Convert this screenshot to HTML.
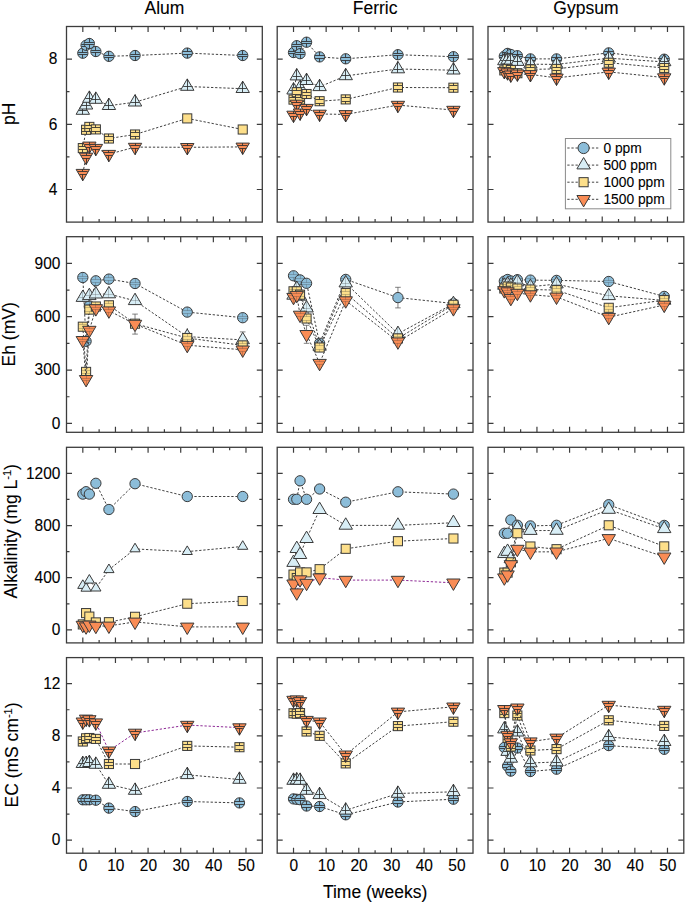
<!DOCTYPE html>
<html><head><meta charset="utf-8"><style>
html,body{margin:0;padding:0;background:#fff;}
svg{display:block;}
text{font-family:"Liberation Sans",sans-serif;fill:#000;stroke:#000;stroke-width:0.1px;}
.tl{font-size:15.5px;}
.ax{font-size:17.5px;}
.lg{font-size:13.8px;}
</style></head><body>
<svg width="685" height="902" viewBox="0 0 685 902">
<rect width="685" height="902" fill="#fff"/>
<polyline points="82.82,53.20 86.08,45.30 89.34,43.50 95.87,51.50 108.92,56.30 135.03,55.50 187.24,53.10 242.72,55.50" fill="none" stroke="#404040" stroke-width="1" stroke-dasharray="2.3 1.8"/>
<circle cx="82.82" cy="53.20" r="5.15" fill="#8cbdd9" stroke="#3a3a3a" stroke-width="1"/>
<path d="M78.21,52.50H87.42M78.21,54.50H87.42M82.50,48.05V52.50M82.50,54.50V58.35" stroke="#2e2e2e" stroke-width="1" fill="none" opacity="0.85"/>
<circle cx="86.08" cy="45.30" r="5.15" fill="#8cbdd9" stroke="#3a3a3a" stroke-width="1"/>
<path d="M81.47,44.50H90.69M81.47,46.50H90.69M86.50,40.15V44.50M86.50,46.50V50.45" stroke="#2e2e2e" stroke-width="1" fill="none" opacity="0.85"/>
<circle cx="89.34" cy="43.50" r="5.15" fill="#8cbdd9" stroke="#3a3a3a" stroke-width="1"/>
<path d="M84.74,42.50H93.95M84.74,44.50H93.95M89.50,38.35V42.50M89.50,44.50V48.65" stroke="#2e2e2e" stroke-width="1" fill="none" opacity="0.85"/>
<circle cx="95.87" cy="51.50" r="5.15" fill="#8cbdd9" stroke="#3a3a3a" stroke-width="1"/>
<path d="M91.26,50.50H100.48M91.26,52.50H100.48M95.50,46.35V50.50M95.50,52.50V56.65" stroke="#2e2e2e" stroke-width="1" fill="none" opacity="0.85"/>
<circle cx="108.92" cy="56.30" r="5.15" fill="#8cbdd9" stroke="#3a3a3a" stroke-width="1"/>
<path d="M104.32,55.50H113.53M104.32,57.50H113.53M108.50,51.15V55.50M108.50,57.50V61.45" stroke="#2e2e2e" stroke-width="1" fill="none" opacity="0.85"/>
<circle cx="135.03" cy="55.50" r="5.15" fill="#8cbdd9" stroke="#3a3a3a" stroke-width="1"/>
<path d="M130.42,54.50H139.64M130.42,56.50H139.64M135.50,50.35V54.50M135.50,56.50V60.65" stroke="#2e2e2e" stroke-width="1" fill="none" opacity="0.85"/>
<circle cx="187.24" cy="53.10" r="5.15" fill="#8cbdd9" stroke="#3a3a3a" stroke-width="1"/>
<path d="M182.64,51.50H191.85M182.64,54.50H191.85M187.50,47.95V51.50M187.50,54.50V58.25" stroke="#2e2e2e" stroke-width="1" fill="none" opacity="0.85"/>
<circle cx="242.72" cy="55.50" r="5.15" fill="#8cbdd9" stroke="#3a3a3a" stroke-width="1"/>
<path d="M238.11,54.50H247.33M238.11,56.50H247.33M242.50,50.35V54.50M242.50,56.50V60.65" stroke="#2e2e2e" stroke-width="1" fill="none" opacity="0.85"/>
<polyline points="82.82,110.50 86.08,105.20 89.34,98.50 95.87,99.50 108.92,105.70 135.03,102.20 187.24,86.50 242.72,88.70" fill="none" stroke="#404040" stroke-width="1" stroke-dasharray="2.3 1.8"/>
<polygon points="82.82,102.90 89.52,114.30 76.12,114.30" fill="#d8eef6" stroke="#3a3a3a" stroke-width="1"/>
<path d="M78.75,110.50H86.88M82.50,102.90V114.30" stroke="#2e2e2e" stroke-width="1" fill="none" opacity="0.85"/>
<polygon points="86.08,97.60 92.78,109.00 79.38,109.00" fill="#d8eef6" stroke="#3a3a3a" stroke-width="1"/>
<path d="M82.01,105.50H90.15M86.50,97.60V109.00" stroke="#2e2e2e" stroke-width="1" fill="none" opacity="0.85"/>
<polygon points="89.34,90.90 96.04,102.30 82.64,102.30" fill="#d8eef6" stroke="#3a3a3a" stroke-width="1"/>
<path d="M85.28,98.50H93.41M89.50,90.90V102.30" stroke="#2e2e2e" stroke-width="1" fill="none" opacity="0.85"/>
<polygon points="95.87,91.90 102.57,103.30 89.17,103.30" fill="#d8eef6" stroke="#3a3a3a" stroke-width="1"/>
<path d="M91.80,99.50H99.94M95.50,91.90V103.30" stroke="#2e2e2e" stroke-width="1" fill="none" opacity="0.85"/>
<polygon points="108.92,98.10 115.62,109.50 102.22,109.50" fill="#d8eef6" stroke="#3a3a3a" stroke-width="1"/>
<path d="M104.86,105.50H112.99M108.50,98.10V109.50" stroke="#2e2e2e" stroke-width="1" fill="none" opacity="0.85"/>
<polygon points="135.03,94.60 141.73,106.00 128.33,106.00" fill="#d8eef6" stroke="#3a3a3a" stroke-width="1"/>
<path d="M130.96,102.50H139.10M135.50,94.60V106.00" stroke="#2e2e2e" stroke-width="1" fill="none" opacity="0.85"/>
<polygon points="187.24,78.90 193.94,90.30 180.54,90.30" fill="#d8eef6" stroke="#3a3a3a" stroke-width="1"/>
<path d="M183.18,86.50H191.31M187.50,78.90V90.30" stroke="#2e2e2e" stroke-width="1" fill="none" opacity="0.85"/>
<polygon points="242.72,81.10 249.42,92.50 236.02,92.50" fill="#d8eef6" stroke="#3a3a3a" stroke-width="1"/>
<path d="M238.65,88.50H246.79M242.50,81.10V92.50" stroke="#2e2e2e" stroke-width="1" fill="none" opacity="0.85"/>
<polyline points="82.82,148.10 86.08,129.80 89.34,126.90 95.87,129.40 108.92,138.50 135.03,134.50 187.24,118.40 242.72,129.50" fill="none" stroke="#404040" stroke-width="1" stroke-dasharray="2.3 1.8"/>
<rect x="78.27" y="143.55" width="9.1" height="9.1" fill="#fddf8a" stroke="#3a3a3a" stroke-width="1"/>
<path d="M78.67,146.50H86.97M78.67,149.50H86.97M82.50,143.55V146.50M82.50,149.50V152.65" stroke="#2e2e2e" stroke-width="1" fill="none" opacity="0.85"/>
<rect x="81.53" y="125.25" width="9.1" height="9.1" fill="#fddf8a" stroke="#3a3a3a" stroke-width="1"/>
<path d="M81.93,128.50H90.23M81.93,131.50H90.23M86.50,125.25V128.50M86.50,131.50V134.35" stroke="#2e2e2e" stroke-width="1" fill="none" opacity="0.85"/>
<rect x="84.79" y="122.35" width="9.1" height="9.1" fill="#fddf8a" stroke="#3a3a3a" stroke-width="1"/>
<path d="M85.19,125.50H93.49M85.19,128.50H93.49M89.50,122.35V125.50M89.50,128.50V131.45" stroke="#2e2e2e" stroke-width="1" fill="none" opacity="0.85"/>
<rect x="91.32" y="124.85" width="9.1" height="9.1" fill="#fddf8a" stroke="#3a3a3a" stroke-width="1"/>
<path d="M91.72,127.50H100.02M91.72,131.50H100.02M95.50,124.85V127.50M95.50,131.50V133.95" stroke="#2e2e2e" stroke-width="1" fill="none" opacity="0.85"/>
<rect x="104.37" y="133.95" width="9.1" height="9.1" fill="#fddf8a" stroke="#3a3a3a" stroke-width="1"/>
<path d="M104.77,136.50H113.07M104.77,140.50H113.07M108.50,133.95V136.50M108.50,140.50V143.05" stroke="#2e2e2e" stroke-width="1" fill="none" opacity="0.85"/>
<rect x="130.48" y="129.95" width="9.1" height="9.1" fill="#fddf8a" stroke="#3a3a3a" stroke-width="1"/>
<path d="M130.88,132.50H139.18M130.88,136.50H139.18M135.50,129.95V132.50M135.50,136.50V139.05" stroke="#2e2e2e" stroke-width="1" fill="none" opacity="0.85"/>
<rect x="182.69" y="113.85" width="9.1" height="9.1" fill="#fddf8a" stroke="#3a3a3a" stroke-width="1"/>
<rect x="238.17" y="124.95" width="9.1" height="9.1" fill="#fddf8a" stroke="#3a3a3a" stroke-width="1"/>
<polyline points="82.82,173.20 86.08,157.00 89.34,145.90 95.87,148.20 108.92,154.20 135.03,147.10 187.24,147.30 242.72,146.90" fill="none" stroke="#404040" stroke-width="1" stroke-dasharray="2.3 1.8"/>
<polygon points="76.12,169.40 89.52,169.40 82.82,180.80" fill="#f98c55" stroke="#3a3a3a" stroke-width="1"/>
<path d="M77.99,171.50H87.65M79.51,174.50H86.12M82.50,169.40V171.50M82.50,174.50V180.80" stroke="#2e2e2e" stroke-width="1" fill="none" opacity="0.85"/>
<polygon points="79.38,153.20 92.78,153.20 86.08,164.60" fill="#f98c55" stroke="#3a3a3a" stroke-width="1"/>
<path d="M81.25,155.50H90.91M82.78,158.50H89.38M86.50,153.20V155.50M86.50,158.50V164.60" stroke="#2e2e2e" stroke-width="1" fill="none" opacity="0.85"/>
<polygon points="82.64,142.10 96.04,142.10 89.34,153.50" fill="#f98c55" stroke="#3a3a3a" stroke-width="1"/>
<path d="M84.51,144.50H94.17M86.04,147.50H92.65M89.50,142.10V144.50M89.50,147.50V153.50" stroke="#2e2e2e" stroke-width="1" fill="none" opacity="0.85"/>
<polygon points="89.17,144.40 102.57,144.40 95.87,155.80" fill="#f98c55" stroke="#3a3a3a" stroke-width="1"/>
<path d="M91.04,146.50H100.70M92.57,149.50H99.17M95.50,144.40V146.50M95.50,149.50V155.80" stroke="#2e2e2e" stroke-width="1" fill="none" opacity="0.85"/>
<polygon points="102.22,150.40 115.62,150.40 108.92,161.80" fill="#f98c55" stroke="#3a3a3a" stroke-width="1"/>
<path d="M104.09,152.50H113.75M105.62,155.50H112.23M108.50,150.40V152.50M108.50,155.50V161.80" stroke="#2e2e2e" stroke-width="1" fill="none" opacity="0.85"/>
<polygon points="128.33,143.30 141.73,143.30 135.03,154.70" fill="#f98c55" stroke="#3a3a3a" stroke-width="1"/>
<path d="M130.20,145.50H139.86M131.73,148.50H138.33M135.50,143.30V145.50M135.50,148.50V154.70" stroke="#2e2e2e" stroke-width="1" fill="none" opacity="0.85"/>
<polygon points="180.54,143.50 193.94,143.50 187.24,154.90" fill="#f98c55" stroke="#3a3a3a" stroke-width="1"/>
<path d="M182.41,145.50H192.07M183.94,148.50H190.55M187.50,143.50V145.50M187.50,148.50V154.90" stroke="#2e2e2e" stroke-width="1" fill="none" opacity="0.85"/>
<polygon points="236.02,143.10 249.42,143.10 242.72,154.50" fill="#f98c55" stroke="#3a3a3a" stroke-width="1"/>
<path d="M237.89,145.50H247.55M239.42,148.50H246.02M242.50,143.10V145.50M242.50,148.50V154.50" stroke="#2e2e2e" stroke-width="1" fill="none" opacity="0.85"/>
<rect x="66.5" y="26.5" width="195.8" height="195.6" fill="none" stroke="#3c3c3c" stroke-width="1.3"/>
<path d="M82.82,222.10v-5.5M82.82,26.50v5.5M115.45,222.10v-5.5M115.45,26.50v5.5M148.08,222.10v-5.5M148.08,26.50v5.5M180.72,222.10v-5.5M180.72,26.50v5.5M213.35,222.10v-5.5M213.35,26.50v5.5M245.98,222.10v-5.5M245.98,26.50v5.5M99.13,222.10v-3M99.13,26.50v3M131.77,222.10v-3M131.77,26.50v3M164.40,222.10v-3M164.40,26.50v3M197.03,222.10v-3M197.03,26.50v3M229.67,222.10v-3M229.67,26.50v3M66.50,189.50h5.5M262.30,189.50h-5.5M66.50,124.30h5.5M262.30,124.30h-5.5M66.50,59.10h5.5M262.30,59.10h-5.5M66.50,156.90h3M262.30,156.90h-3M66.50,91.70h3M262.30,91.70h-3" stroke="#3c3c3c" stroke-width="1.2" fill="none"/>
<polyline points="293.52,52.50 296.78,45.70 300.04,53.70 306.57,42.20 319.62,56.90 345.73,58.80 397.94,54.70 453.42,56.70" fill="none" stroke="#404040" stroke-width="1" stroke-dasharray="2.3 1.8"/>
<circle cx="293.52" cy="52.50" r="5.15" fill="#8cbdd9" stroke="#3a3a3a" stroke-width="1"/>
<path d="M288.91,51.50H298.12M288.91,53.50H298.12M293.50,47.35V51.50M293.50,53.50V57.65" stroke="#2e2e2e" stroke-width="1" fill="none" opacity="0.85"/>
<circle cx="296.78" cy="45.70" r="5.15" fill="#8cbdd9" stroke="#3a3a3a" stroke-width="1"/>
<path d="M292.17,44.50H301.39M292.17,46.50H301.39M296.50,40.55V44.50M296.50,46.50V50.85" stroke="#2e2e2e" stroke-width="1" fill="none" opacity="0.85"/>
<circle cx="300.04" cy="53.70" r="5.15" fill="#8cbdd9" stroke="#3a3a3a" stroke-width="1"/>
<path d="M295.44,52.50H304.65M295.44,54.50H304.65M300.50,48.55V52.50M300.50,54.50V58.85" stroke="#2e2e2e" stroke-width="1" fill="none" opacity="0.85"/>
<circle cx="306.57" cy="42.20" r="5.15" fill="#8cbdd9" stroke="#3a3a3a" stroke-width="1"/>
<path d="M301.96,41.50H311.18M301.96,43.50H311.18M306.50,37.05V41.50M306.50,43.50V47.35" stroke="#2e2e2e" stroke-width="1" fill="none" opacity="0.85"/>
<circle cx="319.62" cy="56.90" r="5.15" fill="#8cbdd9" stroke="#3a3a3a" stroke-width="1"/>
<path d="M315.02,55.50H324.23M315.02,58.50H324.23M319.50,51.75V55.50M319.50,58.50V62.05" stroke="#2e2e2e" stroke-width="1" fill="none" opacity="0.85"/>
<circle cx="345.73" cy="58.80" r="5.15" fill="#8cbdd9" stroke="#3a3a3a" stroke-width="1"/>
<path d="M341.12,57.50H350.34M341.12,60.50H350.34M345.50,53.65V57.50M345.50,60.50V63.95" stroke="#2e2e2e" stroke-width="1" fill="none" opacity="0.85"/>
<circle cx="397.94" cy="54.70" r="5.15" fill="#8cbdd9" stroke="#3a3a3a" stroke-width="1"/>
<path d="M393.34,53.50H402.55M393.34,55.50H402.55M397.50,49.55V53.50M397.50,55.50V59.85" stroke="#2e2e2e" stroke-width="1" fill="none" opacity="0.85"/>
<circle cx="453.42" cy="56.70" r="5.15" fill="#8cbdd9" stroke="#3a3a3a" stroke-width="1"/>
<path d="M448.81,55.50H458.03M448.81,57.50H458.03M453.50,51.55V55.50M453.50,57.50V61.85" stroke="#2e2e2e" stroke-width="1" fill="none" opacity="0.85"/>
<polyline points="293.52,90.20 296.78,76.10 300.04,87.80 306.57,80.70 319.62,86.80 345.73,75.90 397.94,69.00 453.42,70.20" fill="none" stroke="#404040" stroke-width="1" stroke-dasharray="2.3 1.8"/>
<polygon points="293.52,82.60 300.22,94.00 286.82,94.00" fill="#d8eef6" stroke="#3a3a3a" stroke-width="1"/>
<path d="M289.45,90.50H297.58M293.50,82.60V94.00" stroke="#2e2e2e" stroke-width="1" fill="none" opacity="0.85"/>
<polygon points="296.78,68.50 303.48,79.90 290.08,79.90" fill="#d8eef6" stroke="#3a3a3a" stroke-width="1"/>
<path d="M292.71,76.50H300.85M296.50,68.50V79.90" stroke="#2e2e2e" stroke-width="1" fill="none" opacity="0.85"/>
<polygon points="300.04,80.20 306.74,91.60 293.34,91.60" fill="#d8eef6" stroke="#3a3a3a" stroke-width="1"/>
<path d="M295.98,87.50H304.11M300.50,80.20V91.60" stroke="#2e2e2e" stroke-width="1" fill="none" opacity="0.85"/>
<polygon points="306.57,73.10 313.27,84.50 299.87,84.50" fill="#d8eef6" stroke="#3a3a3a" stroke-width="1"/>
<path d="M302.50,80.50H310.64M306.50,73.10V84.50" stroke="#2e2e2e" stroke-width="1" fill="none" opacity="0.85"/>
<polygon points="319.62,79.20 326.32,90.60 312.92,90.60" fill="#d8eef6" stroke="#3a3a3a" stroke-width="1"/>
<path d="M315.56,86.50H323.69M319.50,79.20V90.60" stroke="#2e2e2e" stroke-width="1" fill="none" opacity="0.85"/>
<polygon points="345.73,68.30 352.43,79.70 339.03,79.70" fill="#d8eef6" stroke="#3a3a3a" stroke-width="1"/>
<path d="M341.66,75.50H349.80M345.50,68.30V79.70" stroke="#2e2e2e" stroke-width="1" fill="none" opacity="0.85"/>
<polygon points="397.94,61.40 404.64,72.80 391.24,72.80" fill="#d8eef6" stroke="#3a3a3a" stroke-width="1"/>
<path d="M393.88,69.50H402.01M397.50,61.40V72.80" stroke="#2e2e2e" stroke-width="1" fill="none" opacity="0.85"/>
<polygon points="453.42,62.60 460.12,74.00 446.72,74.00" fill="#d8eef6" stroke="#3a3a3a" stroke-width="1"/>
<path d="M449.35,70.50H457.49M453.50,62.60V74.00" stroke="#2e2e2e" stroke-width="1" fill="none" opacity="0.85"/>
<polyline points="293.52,99.60 296.78,92.20 300.04,99.50 306.57,94.00 319.62,101.20 345.73,99.40 397.94,87.50 453.42,87.70" fill="none" stroke="#404040" stroke-width="1" stroke-dasharray="2.3 1.8"/>
<rect x="288.97" y="95.05" width="9.1" height="9.1" fill="#fddf8a" stroke="#3a3a3a" stroke-width="1"/>
<path d="M289.37,97.50H297.67M289.37,101.50H297.67M293.50,95.05V97.50M293.50,101.50V104.15" stroke="#2e2e2e" stroke-width="1" fill="none" opacity="0.85"/>
<rect x="292.23" y="87.65" width="9.1" height="9.1" fill="#fddf8a" stroke="#3a3a3a" stroke-width="1"/>
<path d="M292.63,90.50H300.93M292.63,94.50H300.93M296.50,87.65V90.50M296.50,94.50V96.75" stroke="#2e2e2e" stroke-width="1" fill="none" opacity="0.85"/>
<rect x="295.49" y="94.95" width="9.1" height="9.1" fill="#fddf8a" stroke="#3a3a3a" stroke-width="1"/>
<path d="M295.89,97.50H304.19M295.89,101.50H304.19M300.50,94.95V97.50M300.50,101.50V104.05" stroke="#2e2e2e" stroke-width="1" fill="none" opacity="0.85"/>
<rect x="302.02" y="89.45" width="9.1" height="9.1" fill="#fddf8a" stroke="#3a3a3a" stroke-width="1"/>
<path d="M302.42,92.50H310.72M302.42,95.50H310.72M306.50,89.45V92.50M306.50,95.50V98.55" stroke="#2e2e2e" stroke-width="1" fill="none" opacity="0.85"/>
<rect x="315.07" y="96.65" width="9.1" height="9.1" fill="#fddf8a" stroke="#3a3a3a" stroke-width="1"/>
<path d="M315.47,99.50H323.77M315.47,103.50H323.77M319.50,96.65V99.50M319.50,103.50V105.75" stroke="#2e2e2e" stroke-width="1" fill="none" opacity="0.85"/>
<rect x="341.18" y="94.85" width="9.1" height="9.1" fill="#fddf8a" stroke="#3a3a3a" stroke-width="1"/>
<path d="M341.58,97.50H349.88M341.58,101.50H349.88M345.50,94.85V97.50M345.50,101.50V103.95" stroke="#2e2e2e" stroke-width="1" fill="none" opacity="0.85"/>
<rect x="393.39" y="82.95" width="9.1" height="9.1" fill="#fddf8a" stroke="#3a3a3a" stroke-width="1"/>
<path d="M393.79,85.50H402.09M393.79,89.50H402.09M397.50,82.95V85.50M397.50,89.50V92.05" stroke="#2e2e2e" stroke-width="1" fill="none" opacity="0.85"/>
<rect x="448.87" y="83.15" width="9.1" height="9.1" fill="#fddf8a" stroke="#3a3a3a" stroke-width="1"/>
<path d="M449.27,85.50H457.57M449.27,89.50H457.57M453.50,83.15V85.50M453.50,89.50V92.25" stroke="#2e2e2e" stroke-width="1" fill="none" opacity="0.85"/>
<polyline points="293.52,115.00 296.78,104.00 300.04,112.80 306.57,108.20 319.62,114.00 345.73,114.40 397.94,105.10 453.42,110.10" fill="none" stroke="#404040" stroke-width="1" stroke-dasharray="2.3 1.8"/>
<polygon points="286.82,111.20 300.22,111.20 293.52,122.60" fill="#f98c55" stroke="#3a3a3a" stroke-width="1"/>
<path d="M288.69,113.50H298.35M290.21,116.50H296.82M293.50,111.20V113.50M293.50,116.50V122.60" stroke="#2e2e2e" stroke-width="1" fill="none" opacity="0.85"/>
<polygon points="290.08,100.20 303.48,100.20 296.78,111.60" fill="#f98c55" stroke="#3a3a3a" stroke-width="1"/>
<path d="M291.95,102.50H301.61M293.48,105.50H300.08M296.50,100.20V102.50M296.50,105.50V111.60" stroke="#2e2e2e" stroke-width="1" fill="none" opacity="0.85"/>
<polygon points="293.34,109.00 306.74,109.00 300.04,120.40" fill="#f98c55" stroke="#3a3a3a" stroke-width="1"/>
<path d="M295.21,111.50H304.87M296.74,114.50H303.35M300.50,109.00V111.50M300.50,114.50V120.40" stroke="#2e2e2e" stroke-width="1" fill="none" opacity="0.85"/>
<polygon points="299.87,104.40 313.27,104.40 306.57,115.80" fill="#f98c55" stroke="#3a3a3a" stroke-width="1"/>
<path d="M301.74,106.50H311.40M303.27,109.50H309.87M306.50,104.40V106.50M306.50,109.50V115.80" stroke="#2e2e2e" stroke-width="1" fill="none" opacity="0.85"/>
<polygon points="312.92,110.20 326.32,110.20 319.62,121.60" fill="#f98c55" stroke="#3a3a3a" stroke-width="1"/>
<path d="M314.79,112.50H324.45M316.32,115.50H322.93M319.50,110.20V112.50M319.50,115.50V121.60" stroke="#2e2e2e" stroke-width="1" fill="none" opacity="0.85"/>
<polygon points="339.03,110.60 352.43,110.60 345.73,122.00" fill="#f98c55" stroke="#3a3a3a" stroke-width="1"/>
<path d="M340.90,113.50H350.56M342.43,115.50H349.03M345.50,110.60V113.50M345.50,115.50V122.00" stroke="#2e2e2e" stroke-width="1" fill="none" opacity="0.85"/>
<polygon points="391.24,101.30 404.64,101.30 397.94,112.70" fill="#f98c55" stroke="#3a3a3a" stroke-width="1"/>
<path d="M393.11,103.50H402.77M394.64,106.50H401.25M397.50,101.30V103.50M397.50,106.50V112.70" stroke="#2e2e2e" stroke-width="1" fill="none" opacity="0.85"/>
<polygon points="446.72,106.30 460.12,106.30 453.42,117.70" fill="#f98c55" stroke="#3a3a3a" stroke-width="1"/>
<path d="M448.59,108.50H458.25M450.12,111.50H456.72M453.50,106.30V108.50M453.50,111.50V117.70" stroke="#2e2e2e" stroke-width="1" fill="none" opacity="0.85"/>
<rect x="277.2" y="26.5" width="195.8" height="195.6" fill="none" stroke="#3c3c3c" stroke-width="1.3"/>
<path d="M293.52,222.10v-5.5M293.52,26.50v5.5M326.15,222.10v-5.5M326.15,26.50v5.5M358.78,222.10v-5.5M358.78,26.50v5.5M391.42,222.10v-5.5M391.42,26.50v5.5M424.05,222.10v-5.5M424.05,26.50v5.5M456.68,222.10v-5.5M456.68,26.50v5.5M309.83,222.10v-3M309.83,26.50v3M342.47,222.10v-3M342.47,26.50v3M375.10,222.10v-3M375.10,26.50v3M407.73,222.10v-3M407.73,26.50v3M440.37,222.10v-3M440.37,26.50v3M277.20,189.50h5.5M473.00,189.50h-5.5M277.20,124.30h5.5M473.00,124.30h-5.5M277.20,59.10h5.5M473.00,59.10h-5.5M277.20,156.90h3M473.00,156.90h-3M277.20,91.70h3M473.00,91.70h-3" stroke="#3c3c3c" stroke-width="1.2" fill="none"/>
<polyline points="504.32,56.20 507.58,53.40 510.84,54.50 517.37,55.70 530.42,58.90 556.53,58.90 608.74,52.90 664.22,59.20" fill="none" stroke="#404040" stroke-width="1" stroke-dasharray="2.3 1.8"/>
<circle cx="504.32" cy="56.20" r="5.15" fill="#8cbdd9" stroke="#3a3a3a" stroke-width="1"/>
<path d="M499.71,55.50H508.92M499.71,57.50H508.92M504.50,51.05V55.50M504.50,57.50V61.35" stroke="#2e2e2e" stroke-width="1" fill="none" opacity="0.85"/>
<circle cx="507.58" cy="53.40" r="5.15" fill="#8cbdd9" stroke="#3a3a3a" stroke-width="1"/>
<path d="M502.97,52.50H512.19M502.97,54.50H512.19M507.50,48.25V52.50M507.50,54.50V58.55" stroke="#2e2e2e" stroke-width="1" fill="none" opacity="0.85"/>
<circle cx="510.84" cy="54.50" r="5.15" fill="#8cbdd9" stroke="#3a3a3a" stroke-width="1"/>
<path d="M506.24,53.50H515.45M506.24,55.50H515.45M510.50,49.35V53.50M510.50,55.50V59.65" stroke="#2e2e2e" stroke-width="1" fill="none" opacity="0.85"/>
<circle cx="517.37" cy="55.70" r="5.15" fill="#8cbdd9" stroke="#3a3a3a" stroke-width="1"/>
<path d="M512.76,54.50H521.98M512.76,56.50H521.98M517.50,50.55V54.50M517.50,56.50V60.85" stroke="#2e2e2e" stroke-width="1" fill="none" opacity="0.85"/>
<circle cx="530.42" cy="58.90" r="5.15" fill="#8cbdd9" stroke="#3a3a3a" stroke-width="1"/>
<path d="M525.82,57.50H535.03M525.82,60.50H535.03M530.50,53.75V57.50M530.50,60.50V64.05" stroke="#2e2e2e" stroke-width="1" fill="none" opacity="0.85"/>
<circle cx="556.53" cy="58.90" r="5.15" fill="#8cbdd9" stroke="#3a3a3a" stroke-width="1"/>
<path d="M551.92,57.50H561.14M551.92,60.50H561.14M556.50,53.75V57.50M556.50,60.50V64.05" stroke="#2e2e2e" stroke-width="1" fill="none" opacity="0.85"/>
<circle cx="608.74" cy="52.90" r="5.15" fill="#8cbdd9" stroke="#3a3a3a" stroke-width="1"/>
<path d="M604.14,51.50H613.35M604.14,54.50H613.35M608.50,47.75V51.50M608.50,54.50V58.05" stroke="#2e2e2e" stroke-width="1" fill="none" opacity="0.85"/>
<circle cx="664.22" cy="59.20" r="5.15" fill="#8cbdd9" stroke="#3a3a3a" stroke-width="1"/>
<path d="M659.61,58.50H668.83M659.61,60.50H668.83M664.50,54.05V58.50M664.50,60.50V64.35" stroke="#2e2e2e" stroke-width="1" fill="none" opacity="0.85"/>
<polyline points="504.32,60.90 507.58,60.10 510.84,60.40 517.37,61.60 530.42,64.20 556.53,64.40 608.74,58.20 664.22,61.90" fill="none" stroke="#404040" stroke-width="1" stroke-dasharray="2.3 1.8"/>
<polygon points="504.32,53.30 511.02,64.70 497.62,64.70" fill="#d8eef6" stroke="#3a3a3a" stroke-width="1"/>
<path d="M500.25,60.50H508.38M504.50,53.30V64.70" stroke="#2e2e2e" stroke-width="1" fill="none" opacity="0.85"/>
<polygon points="507.58,52.50 514.28,63.90 500.88,63.90" fill="#d8eef6" stroke="#3a3a3a" stroke-width="1"/>
<path d="M503.51,60.50H511.65M507.50,52.50V63.90" stroke="#2e2e2e" stroke-width="1" fill="none" opacity="0.85"/>
<polygon points="510.84,52.80 517.54,64.20 504.14,64.20" fill="#d8eef6" stroke="#3a3a3a" stroke-width="1"/>
<path d="M506.78,60.50H514.91M510.50,52.80V64.20" stroke="#2e2e2e" stroke-width="1" fill="none" opacity="0.85"/>
<polygon points="517.37,54.00 524.07,65.40 510.67,65.40" fill="#d8eef6" stroke="#3a3a3a" stroke-width="1"/>
<path d="M513.30,61.50H521.44M517.50,54.00V65.40" stroke="#2e2e2e" stroke-width="1" fill="none" opacity="0.85"/>
<polygon points="530.42,56.60 537.12,68.00 523.72,68.00" fill="#d8eef6" stroke="#3a3a3a" stroke-width="1"/>
<path d="M526.36,64.50H534.49M530.50,56.60V68.00" stroke="#2e2e2e" stroke-width="1" fill="none" opacity="0.85"/>
<polygon points="556.53,56.80 563.23,68.20 549.83,68.20" fill="#d8eef6" stroke="#3a3a3a" stroke-width="1"/>
<path d="M552.46,64.50H560.60M556.50,56.80V68.20" stroke="#2e2e2e" stroke-width="1" fill="none" opacity="0.85"/>
<polygon points="608.74,50.60 615.44,62.00 602.04,62.00" fill="#d8eef6" stroke="#3a3a3a" stroke-width="1"/>
<path d="M604.68,58.50H612.81M608.50,50.60V62.00" stroke="#2e2e2e" stroke-width="1" fill="none" opacity="0.85"/>
<polygon points="664.22,54.30 670.92,65.70 657.52,65.70" fill="#d8eef6" stroke="#3a3a3a" stroke-width="1"/>
<path d="M660.15,61.50H668.29M664.50,54.30V65.70" stroke="#2e2e2e" stroke-width="1" fill="none" opacity="0.85"/>
<polyline points="504.32,70.40 507.58,68.90 510.84,70.00 517.37,73.20 530.42,69.40 556.53,68.90 608.74,62.70 664.22,68.00" fill="none" stroke="#404040" stroke-width="1" stroke-dasharray="2.3 1.8"/>
<rect x="499.77" y="65.85" width="9.1" height="9.1" fill="#fddf8a" stroke="#3a3a3a" stroke-width="1"/>
<path d="M500.17,68.50H508.47M500.17,72.50H508.47M504.50,65.85V68.50M504.50,72.50V74.95" stroke="#2e2e2e" stroke-width="1" fill="none" opacity="0.85"/>
<rect x="503.03" y="64.35" width="9.1" height="9.1" fill="#fddf8a" stroke="#3a3a3a" stroke-width="1"/>
<path d="M503.43,67.50H511.73M503.43,70.50H511.73M507.50,64.35V67.50M507.50,70.50V73.45" stroke="#2e2e2e" stroke-width="1" fill="none" opacity="0.85"/>
<rect x="506.29" y="65.45" width="9.1" height="9.1" fill="#fddf8a" stroke="#3a3a3a" stroke-width="1"/>
<path d="M506.69,68.50H514.99M506.69,71.50H514.99M510.50,65.45V68.50M510.50,71.50V74.55" stroke="#2e2e2e" stroke-width="1" fill="none" opacity="0.85"/>
<rect x="512.82" y="68.65" width="9.1" height="9.1" fill="#fddf8a" stroke="#3a3a3a" stroke-width="1"/>
<path d="M513.22,71.50H521.52M513.22,75.50H521.52M517.50,68.65V71.50M517.50,75.50V77.75" stroke="#2e2e2e" stroke-width="1" fill="none" opacity="0.85"/>
<rect x="525.87" y="64.85" width="9.1" height="9.1" fill="#fddf8a" stroke="#3a3a3a" stroke-width="1"/>
<path d="M526.27,67.50H534.57M526.27,71.50H534.57M530.50,64.85V67.50M530.50,71.50V73.95" stroke="#2e2e2e" stroke-width="1" fill="none" opacity="0.85"/>
<rect x="551.98" y="64.35" width="9.1" height="9.1" fill="#fddf8a" stroke="#3a3a3a" stroke-width="1"/>
<path d="M552.38,67.50H560.68M552.38,70.50H560.68M556.50,64.35V67.50M556.50,70.50V73.45" stroke="#2e2e2e" stroke-width="1" fill="none" opacity="0.85"/>
<rect x="604.19" y="58.15" width="9.1" height="9.1" fill="#fddf8a" stroke="#3a3a3a" stroke-width="1"/>
<path d="M604.59,60.50H612.89M604.59,64.50H612.89M608.50,58.15V60.50M608.50,64.50V67.25" stroke="#2e2e2e" stroke-width="1" fill="none" opacity="0.85"/>
<rect x="659.67" y="63.45" width="9.1" height="9.1" fill="#fddf8a" stroke="#3a3a3a" stroke-width="1"/>
<path d="M660.07,66.50H668.37M660.07,69.50H668.37M664.50,63.45V66.50M664.50,69.50V72.55" stroke="#2e2e2e" stroke-width="1" fill="none" opacity="0.85"/>
<polyline points="504.32,71.40 507.58,72.60 510.84,74.80 517.37,73.80 530.42,74.40 556.53,77.90 608.74,71.90 664.22,77.60" fill="none" stroke="#404040" stroke-width="1" stroke-dasharray="2.3 1.8"/>
<polygon points="497.62,67.60 511.02,67.60 504.32,79.00" fill="#f98c55" stroke="#3a3a3a" stroke-width="1"/>
<path d="M499.49,70.50H509.15M501.01,72.50H507.62M504.50,67.60V70.50M504.50,72.50V79.00" stroke="#2e2e2e" stroke-width="1" fill="none" opacity="0.85"/>
<polygon points="500.88,68.80 514.28,68.80 507.58,80.20" fill="#f98c55" stroke="#3a3a3a" stroke-width="1"/>
<path d="M502.75,71.50H512.41M504.28,73.50H510.88M507.50,68.80V71.50M507.50,73.50V80.20" stroke="#2e2e2e" stroke-width="1" fill="none" opacity="0.85"/>
<polygon points="504.14,71.00 517.54,71.00 510.84,82.40" fill="#f98c55" stroke="#3a3a3a" stroke-width="1"/>
<path d="M506.01,73.50H515.67M507.54,76.50H514.15M510.50,71.00V73.50M510.50,76.50V82.40" stroke="#2e2e2e" stroke-width="1" fill="none" opacity="0.85"/>
<polygon points="510.67,70.00 524.07,70.00 517.37,81.40" fill="#f98c55" stroke="#3a3a3a" stroke-width="1"/>
<path d="M512.54,72.50H522.20M514.07,75.50H520.67M517.50,70.00V72.50M517.50,75.50V81.40" stroke="#2e2e2e" stroke-width="1" fill="none" opacity="0.85"/>
<polygon points="523.72,70.60 537.12,70.60 530.42,82.00" fill="#f98c55" stroke="#3a3a3a" stroke-width="1"/>
<path d="M525.59,73.50H535.25M527.12,75.50H533.73M530.50,70.60V73.50M530.50,75.50V82.00" stroke="#2e2e2e" stroke-width="1" fill="none" opacity="0.85"/>
<polygon points="549.83,74.10 563.23,74.10 556.53,85.50" fill="#f98c55" stroke="#3a3a3a" stroke-width="1"/>
<path d="M551.70,76.50H561.36M553.23,79.50H559.83M556.50,74.10V76.50M556.50,79.50V85.50" stroke="#2e2e2e" stroke-width="1" fill="none" opacity="0.85"/>
<polygon points="602.04,68.10 615.44,68.10 608.74,79.50" fill="#f98c55" stroke="#3a3a3a" stroke-width="1"/>
<path d="M603.91,70.50H613.57M605.44,73.50H612.05M608.50,68.10V70.50M608.50,73.50V79.50" stroke="#2e2e2e" stroke-width="1" fill="none" opacity="0.85"/>
<polygon points="657.52,73.80 670.92,73.80 664.22,85.20" fill="#f98c55" stroke="#3a3a3a" stroke-width="1"/>
<path d="M659.39,76.50H669.05M660.92,78.50H667.52M664.50,73.80V76.50M664.50,78.50V85.20" stroke="#2e2e2e" stroke-width="1" fill="none" opacity="0.85"/>
<rect x="488.0" y="26.5" width="195.8" height="195.6" fill="none" stroke="#3c3c3c" stroke-width="1.3"/>
<path d="M504.32,222.10v-5.5M504.32,26.50v5.5M536.95,222.10v-5.5M536.95,26.50v5.5M569.58,222.10v-5.5M569.58,26.50v5.5M602.22,222.10v-5.5M602.22,26.50v5.5M634.85,222.10v-5.5M634.85,26.50v5.5M667.48,222.10v-5.5M667.48,26.50v5.5M520.63,222.10v-3M520.63,26.50v3M553.27,222.10v-3M553.27,26.50v3M585.90,222.10v-3M585.90,26.50v3M618.53,222.10v-3M618.53,26.50v3M651.17,222.10v-3M651.17,26.50v3M488.00,189.50h5.5M683.80,189.50h-5.5M488.00,124.30h5.5M683.80,124.30h-5.5M488.00,59.10h5.5M683.80,59.10h-5.5M488.00,156.90h3M683.80,156.90h-3M488.00,91.70h3M683.80,91.70h-3" stroke="#3c3c3c" stroke-width="1.2" fill="none"/>
<polyline points="82.82,277.50 86.08,341.30 89.34,306.00 95.87,280.80 108.92,279.10 135.03,283.50 187.24,312.10 242.72,317.70" fill="none" stroke="#404040" stroke-width="1" stroke-dasharray="2.3 1.8"/>
<circle cx="82.82" cy="277.50" r="5.15" fill="#8cbdd9" stroke="#3a3a3a" stroke-width="1"/>
<path d="M78.21,276.50H87.42M78.21,278.50H87.42M82.50,272.35V276.50M82.50,278.50V282.65" stroke="#2e2e2e" stroke-width="1" fill="none" opacity="0.25"/>
<circle cx="86.08" cy="341.30" r="5.15" fill="#8cbdd9" stroke="#3a3a3a" stroke-width="1"/>
<path d="M81.47,340.50H90.69M81.47,342.50H90.69M86.50,336.15V340.50M86.50,342.50V346.45" stroke="#2e2e2e" stroke-width="1" fill="none" opacity="0.25"/>
<circle cx="89.34" cy="306.00" r="5.15" fill="#8cbdd9" stroke="#3a3a3a" stroke-width="1"/>
<path d="M84.74,304.50H93.95M84.74,307.50H93.95M89.50,300.85V304.50M89.50,307.50V311.15" stroke="#2e2e2e" stroke-width="1" fill="none" opacity="0.25"/>
<circle cx="95.87" cy="280.80" r="5.15" fill="#8cbdd9" stroke="#3a3a3a" stroke-width="1"/>
<path d="M91.26,279.50H100.48M91.26,282.50H100.48M95.50,275.65V279.50M95.50,282.50V285.95" stroke="#2e2e2e" stroke-width="1" fill="none" opacity="0.25"/>
<circle cx="108.92" cy="279.10" r="5.15" fill="#8cbdd9" stroke="#3a3a3a" stroke-width="1"/>
<path d="M104.32,277.50H113.53M104.32,280.50H113.53M108.50,273.95V277.50M108.50,280.50V284.25" stroke="#2e2e2e" stroke-width="1" fill="none" opacity="0.25"/>
<circle cx="135.03" cy="283.50" r="5.15" fill="#8cbdd9" stroke="#3a3a3a" stroke-width="1"/>
<path d="M130.42,282.50H139.64M130.42,284.50H139.64M135.50,278.35V282.50M135.50,284.50V288.65" stroke="#2e2e2e" stroke-width="1" fill="none" opacity="0.25"/>
<circle cx="187.24" cy="312.10" r="5.15" fill="#8cbdd9" stroke="#3a3a3a" stroke-width="1"/>
<path d="M182.64,310.50H191.85M182.64,313.50H191.85M187.50,306.95V310.50M187.50,313.50V317.25" stroke="#2e2e2e" stroke-width="1" fill="none" opacity="0.25"/>
<circle cx="242.72" cy="317.70" r="5.15" fill="#8cbdd9" stroke="#3a3a3a" stroke-width="1"/>
<path d="M238.11,316.50H247.33M238.11,318.50H247.33M242.50,312.55V316.50M242.50,318.50V322.85" stroke="#2e2e2e" stroke-width="1" fill="none" opacity="0.25"/>
<polyline points="82.82,297.60 89.34,295.80 95.87,294.20 108.92,294.00 135.03,300.80 187.24,336.60 242.72,339.90" fill="none" stroke="#404040" stroke-width="1" stroke-dasharray="2.3 1.8"/>
<polygon points="82.82,290.00 89.52,301.40 76.12,301.40" fill="#d8eef6" stroke="#3a3a3a" stroke-width="1"/>
<path d="M78.75,297.50H86.88M82.50,290.00V301.40" stroke="#2e2e2e" stroke-width="1" fill="none" opacity="0.25"/>
<polygon points="89.34,288.20 96.04,299.60 82.64,299.60" fill="#d8eef6" stroke="#3a3a3a" stroke-width="1"/>
<path d="M85.28,295.50H93.41M89.50,288.20V299.60" stroke="#2e2e2e" stroke-width="1" fill="none" opacity="0.25"/>
<polygon points="95.87,286.60 102.57,298.00 89.17,298.00" fill="#d8eef6" stroke="#3a3a3a" stroke-width="1"/>
<path d="M91.80,294.50H99.94M95.50,286.60V298.00" stroke="#2e2e2e" stroke-width="1" fill="none" opacity="0.25"/>
<polygon points="108.92,286.40 115.62,297.80 102.22,297.80" fill="#d8eef6" stroke="#3a3a3a" stroke-width="1"/>
<path d="M104.86,294.50H112.99M108.50,286.40V297.80" stroke="#2e2e2e" stroke-width="1" fill="none" opacity="0.25"/>
<polygon points="135.03,293.20 141.73,304.60 128.33,304.60" fill="#d8eef6" stroke="#3a3a3a" stroke-width="1"/>
<path d="M130.96,300.50H139.10M135.50,293.20V304.60" stroke="#2e2e2e" stroke-width="1" fill="none" opacity="0.25"/>
<polygon points="187.24,329.00 193.94,340.40 180.54,340.40" fill="#d8eef6" stroke="#3a3a3a" stroke-width="1"/>
<path d="M187.64,328.50H186.84" stroke="#2e2e2e" stroke-width="1" fill="none" opacity="0.9"/>
<path d="M184.44,344.20H190.04M187.24,329.00V329.00M187.24,340.40V344.20" stroke="#555" stroke-width="1" fill="none" opacity="0.75"/>
<polygon points="242.72,332.30 249.42,343.70 236.02,343.70" fill="#d8eef6" stroke="#3a3a3a" stroke-width="1"/>
<path d="M239.92,331.90H245.52M239.92,347.90H245.52M242.72,332.30V331.90M242.72,343.70V347.90" stroke="#555" stroke-width="1" fill="none" opacity="0.75"/>
<polyline points="82.82,326.70 86.08,371.90 89.34,309.60 95.87,306.50 108.92,305.30 135.03,323.70 187.24,338.00 242.72,345.40" fill="none" stroke="#404040" stroke-width="1" stroke-dasharray="2.3 1.8"/>
<rect x="78.27" y="322.15" width="9.1" height="9.1" fill="#fddf8a" stroke="#3a3a3a" stroke-width="1"/>
<path d="M78.67,324.50H86.97M78.67,328.50H86.97M82.50,322.15V324.50M82.50,328.50V331.25" stroke="#2e2e2e" stroke-width="1" fill="none" opacity="0.25"/>
<rect x="81.53" y="367.35" width="9.1" height="9.1" fill="#fddf8a" stroke="#3a3a3a" stroke-width="1"/>
<path d="M81.93,370.50H90.23M81.93,373.50H90.23M86.50,367.35V370.50M86.50,373.50V376.45" stroke="#2e2e2e" stroke-width="1" fill="none" opacity="0.25"/>
<rect x="84.79" y="305.05" width="9.1" height="9.1" fill="#fddf8a" stroke="#3a3a3a" stroke-width="1"/>
<path d="M85.19,307.50H93.49M85.19,311.50H93.49M89.50,305.05V307.50M89.50,311.50V314.15" stroke="#2e2e2e" stroke-width="1" fill="none" opacity="0.25"/>
<rect x="91.32" y="301.95" width="9.1" height="9.1" fill="#fddf8a" stroke="#3a3a3a" stroke-width="1"/>
<path d="M91.72,304.50H100.02M91.72,308.50H100.02M95.50,301.95V304.50M95.50,308.50V311.05" stroke="#2e2e2e" stroke-width="1" fill="none" opacity="0.25"/>
<rect x="104.37" y="300.75" width="9.1" height="9.1" fill="#fddf8a" stroke="#3a3a3a" stroke-width="1"/>
<path d="M104.77,303.50H113.07M104.77,307.50H113.07M108.50,300.75V303.50M108.50,307.50V309.85" stroke="#2e2e2e" stroke-width="1" fill="none" opacity="0.25"/>
<rect x="130.48" y="319.15" width="9.1" height="9.1" fill="#fddf8a" stroke="#3a3a3a" stroke-width="1"/>
<path d="M130.88,321.50H139.18M130.88,325.50H139.18M135.50,319.15V321.50M135.50,325.50V328.25" stroke="#2e2e2e" stroke-width="1" fill="none" opacity="0.25"/>
<rect x="182.69" y="333.45" width="9.1" height="9.1" fill="#fddf8a" stroke="#3a3a3a" stroke-width="1"/>
<path d="M183.09,336.50H191.39M183.09,339.50H191.39M187.50,333.45V336.50M187.50,339.50V342.55" stroke="#2e2e2e" stroke-width="1" fill="none" opacity="0.25"/>
<rect x="238.17" y="340.85" width="9.1" height="9.1" fill="#fddf8a" stroke="#3a3a3a" stroke-width="1"/>
<path d="M238.57,343.50H246.87M238.57,347.50H246.87M242.50,340.85V343.50M242.50,347.50V349.95" stroke="#2e2e2e" stroke-width="1" fill="none" opacity="0.25"/>
<polyline points="82.82,340.30 86.08,379.30 89.34,330.10 95.87,308.50 108.92,310.70 135.03,324.10 187.24,345.20 242.72,349.80" fill="none" stroke="#404040" stroke-width="1" stroke-dasharray="2.3 1.8"/>
<polygon points="76.12,336.50 89.52,336.50 82.82,347.90" fill="#f98c55" stroke="#3a3a3a" stroke-width="1"/>
<path d="M77.99,339.50H87.65M79.51,341.50H86.12M82.50,336.50V339.50M82.50,341.50V347.90" stroke="#2e2e2e" stroke-width="1" fill="none" opacity="0.25"/>
<polygon points="79.38,375.50 92.78,375.50 86.08,386.90" fill="#f98c55" stroke="#3a3a3a" stroke-width="1"/>
<path d="M81.25,378.50H90.91M82.78,380.50H89.38M86.50,375.50V378.50M86.50,380.50V386.90" stroke="#2e2e2e" stroke-width="1" fill="none" opacity="0.25"/>
<polygon points="82.64,326.30 96.04,326.30 89.34,337.70" fill="#f98c55" stroke="#3a3a3a" stroke-width="1"/>
<path d="M84.51,328.50H94.17M86.04,331.50H92.65M89.50,326.30V328.50M89.50,331.50V337.70" stroke="#2e2e2e" stroke-width="1" fill="none" opacity="0.25"/>
<polygon points="89.17,304.70 102.57,304.70 95.87,316.10" fill="#f98c55" stroke="#3a3a3a" stroke-width="1"/>
<path d="M91.04,307.50H100.70M92.57,309.50H99.17M95.50,304.70V307.50M95.50,309.50V316.10" stroke="#2e2e2e" stroke-width="1" fill="none" opacity="0.25"/>
<polygon points="102.22,306.90 115.62,306.90 108.92,318.30" fill="#f98c55" stroke="#3a3a3a" stroke-width="1"/>
<path d="M104.09,309.50H113.75M105.62,312.50H112.23M108.50,306.90V309.50M108.50,312.50V318.30" stroke="#2e2e2e" stroke-width="1" fill="none" opacity="0.25"/>
<polygon points="128.33,320.30 141.73,320.30 135.03,331.70" fill="#f98c55" stroke="#3a3a3a" stroke-width="1"/>
<path d="M132.23,314.10H137.83M132.23,334.10H137.83M135.03,320.30V314.10M135.03,331.70V334.10" stroke="#555" stroke-width="1" fill="none" opacity="0.75"/>
<polygon points="180.54,341.40 193.94,341.40 187.24,352.80" fill="#f98c55" stroke="#3a3a3a" stroke-width="1"/>
<path d="M182.41,343.50H192.07M183.94,346.50H190.55M187.50,341.40V343.50M187.50,346.50V352.80" stroke="#2e2e2e" stroke-width="1" fill="none" opacity="0.25"/>
<polygon points="236.02,346.00 249.42,346.00 242.72,357.40" fill="#f98c55" stroke="#3a3a3a" stroke-width="1"/>
<path d="M237.89,348.50H247.55M239.42,351.50H246.02M242.50,346.00V348.50M242.50,351.50V357.40" stroke="#2e2e2e" stroke-width="1" fill="none" opacity="0.25"/>
<rect x="66.5" y="236.7" width="195.8" height="195.6" fill="none" stroke="#3c3c3c" stroke-width="1.3"/>
<path d="M82.82,432.30v-5.5M82.82,236.70v5.5M115.45,432.30v-5.5M115.45,236.70v5.5M148.08,432.30v-5.5M148.08,236.70v5.5M180.72,432.30v-5.5M180.72,236.70v5.5M213.35,432.30v-5.5M213.35,236.70v5.5M245.98,432.30v-5.5M245.98,236.70v5.5M99.13,432.30v-3M99.13,236.70v3M131.77,432.30v-3M131.77,236.70v3M164.40,432.30v-3M164.40,236.70v3M197.03,432.30v-3M197.03,236.70v3M229.67,432.30v-3M229.67,236.70v3M66.50,423.41h5.5M262.30,423.41h-5.5M66.50,370.06h5.5M262.30,370.06h-5.5M66.50,316.72h5.5M262.30,316.72h-5.5M66.50,263.37h5.5M262.30,263.37h-5.5M66.50,396.74h3M262.30,396.74h-3M66.50,343.39h3M262.30,343.39h-3M66.50,290.05h3M262.30,290.05h-3" stroke="#3c3c3c" stroke-width="1.2" fill="none"/>
<polyline points="293.52,275.80 296.78,291.50 300.04,279.90 306.57,283.30 319.62,343.30 345.73,279.40 397.94,297.60 453.42,303.50" fill="none" stroke="#404040" stroke-width="1" stroke-dasharray="2.3 1.8"/>
<circle cx="293.52" cy="275.80" r="5.15" fill="#8cbdd9" stroke="#3a3a3a" stroke-width="1"/>
<path d="M288.91,274.50H298.12M288.91,277.50H298.12M293.50,270.65V274.50M293.50,277.50V280.95" stroke="#2e2e2e" stroke-width="1" fill="none" opacity="0.25"/>
<circle cx="296.78" cy="291.50" r="5.15" fill="#8cbdd9" stroke="#3a3a3a" stroke-width="1"/>
<path d="M292.17,290.50H301.39M292.17,292.50H301.39M296.50,286.35V290.50M296.50,292.50V296.65" stroke="#2e2e2e" stroke-width="1" fill="none" opacity="0.25"/>
<circle cx="300.04" cy="279.90" r="5.15" fill="#8cbdd9" stroke="#3a3a3a" stroke-width="1"/>
<path d="M295.44,278.50H304.65M295.44,281.50H304.65M300.50,274.75V278.50M300.50,281.50V285.05" stroke="#2e2e2e" stroke-width="1" fill="none" opacity="0.25"/>
<circle cx="306.57" cy="283.30" r="5.15" fill="#8cbdd9" stroke="#3a3a3a" stroke-width="1"/>
<path d="M301.96,282.50H311.18M301.96,284.50H311.18M306.50,278.15V282.50M306.50,284.50V288.45" stroke="#2e2e2e" stroke-width="1" fill="none" opacity="0.25"/>
<circle cx="319.62" cy="343.30" r="5.15" fill="#8cbdd9" stroke="#3a3a3a" stroke-width="1"/>
<path d="M315.02,342.50H324.23M315.02,344.50H324.23M319.50,338.15V342.50M319.50,344.50V348.45" stroke="#2e2e2e" stroke-width="1" fill="none" opacity="0.25"/>
<circle cx="345.73" cy="279.40" r="5.15" fill="#8cbdd9" stroke="#3a3a3a" stroke-width="1"/>
<path d="M341.12,278.50H350.34M341.12,280.50H350.34M345.50,274.25V278.50M345.50,280.50V284.55" stroke="#2e2e2e" stroke-width="1" fill="none" opacity="0.25"/>
<circle cx="397.94" cy="297.60" r="5.15" fill="#8cbdd9" stroke="#3a3a3a" stroke-width="1"/>
<path d="M395.14,287.30H400.74M395.14,307.90H400.74M397.94,292.45V287.30M397.94,302.75V307.90" stroke="#555" stroke-width="1" fill="none" opacity="0.75"/>
<circle cx="453.42" cy="303.50" r="5.15" fill="#8cbdd9" stroke="#3a3a3a" stroke-width="1"/>
<path d="M448.81,302.50H458.03M448.81,304.50H458.03M453.50,298.35V302.50M453.50,304.50V308.65" stroke="#2e2e2e" stroke-width="1" fill="none" opacity="0.25"/>
<polyline points="293.52,295.40 296.78,288.60 300.04,296.40 306.57,308.10 319.62,346.40 345.73,283.10 397.94,333.70 453.42,303.80" fill="none" stroke="#404040" stroke-width="1" stroke-dasharray="2.3 1.8"/>
<polygon points="293.52,287.80 300.22,299.20 286.82,299.20" fill="#d8eef6" stroke="#3a3a3a" stroke-width="1"/>
<path d="M289.45,295.50H297.58M293.50,287.80V299.20" stroke="#2e2e2e" stroke-width="1" fill="none" opacity="0.25"/>
<polygon points="296.78,281.00 303.48,292.40 290.08,292.40" fill="#d8eef6" stroke="#3a3a3a" stroke-width="1"/>
<path d="M292.71,288.50H300.85M296.50,281.00V292.40" stroke="#2e2e2e" stroke-width="1" fill="none" opacity="0.25"/>
<polygon points="300.04,288.80 306.74,300.20 293.34,300.20" fill="#d8eef6" stroke="#3a3a3a" stroke-width="1"/>
<path d="M295.98,296.50H304.11M300.50,288.80V300.20" stroke="#2e2e2e" stroke-width="1" fill="none" opacity="0.25"/>
<polygon points="306.57,300.50 313.27,311.90 299.87,311.90" fill="#d8eef6" stroke="#3a3a3a" stroke-width="1"/>
<path d="M302.50,308.50H310.64M306.50,300.50V311.90" stroke="#2e2e2e" stroke-width="1" fill="none" opacity="0.25"/>
<polygon points="319.62,338.80 326.32,350.20 312.92,350.20" fill="#d8eef6" stroke="#3a3a3a" stroke-width="1"/>
<path d="M315.56,346.50H323.69M319.50,338.80V350.20" stroke="#2e2e2e" stroke-width="1" fill="none" opacity="0.25"/>
<polygon points="345.73,275.50 352.43,286.90 339.03,286.90" fill="#d8eef6" stroke="#3a3a3a" stroke-width="1"/>
<path d="M341.66,283.50H349.80M345.50,275.50V286.90" stroke="#2e2e2e" stroke-width="1" fill="none" opacity="0.25"/>
<polygon points="397.94,326.10 404.64,337.50 391.24,337.50" fill="#d8eef6" stroke="#3a3a3a" stroke-width="1"/>
<path d="M393.88,333.50H402.01M397.50,326.10V337.50" stroke="#2e2e2e" stroke-width="1" fill="none" opacity="0.25"/>
<polygon points="453.42,296.20 460.12,307.60 446.72,307.60" fill="#d8eef6" stroke="#3a3a3a" stroke-width="1"/>
<path d="M449.35,303.50H457.49M453.50,296.20V307.60" stroke="#2e2e2e" stroke-width="1" fill="none" opacity="0.25"/>
<polyline points="293.52,291.30 296.78,291.30 300.04,294.70 306.57,318.50 319.62,347.50 345.73,293.00 397.94,338.40 453.42,304.80" fill="none" stroke="#404040" stroke-width="1" stroke-dasharray="2.3 1.8"/>
<rect x="288.97" y="286.75" width="9.1" height="9.1" fill="#fddf8a" stroke="#3a3a3a" stroke-width="1"/>
<path d="M289.37,289.50H297.67M289.37,293.50H297.67M293.50,286.75V289.50M293.50,293.50V295.85" stroke="#2e2e2e" stroke-width="1" fill="none" opacity="0.25"/>
<rect x="292.23" y="286.75" width="9.1" height="9.1" fill="#fddf8a" stroke="#3a3a3a" stroke-width="1"/>
<path d="M292.63,289.50H300.93M292.63,293.50H300.93M296.50,286.75V289.50M296.50,293.50V295.85" stroke="#2e2e2e" stroke-width="1" fill="none" opacity="0.25"/>
<rect x="295.49" y="290.15" width="9.1" height="9.1" fill="#fddf8a" stroke="#3a3a3a" stroke-width="1"/>
<path d="M295.89,292.50H304.19M295.89,296.50H304.19M300.50,290.15V292.50M300.50,296.50V299.25" stroke="#2e2e2e" stroke-width="1" fill="none" opacity="0.25"/>
<rect x="302.02" y="313.95" width="9.1" height="9.1" fill="#fddf8a" stroke="#3a3a3a" stroke-width="1"/>
<path d="M302.42,316.50H310.72M302.42,320.50H310.72M306.50,313.95V316.50M306.50,320.50V323.05" stroke="#2e2e2e" stroke-width="1" fill="none" opacity="0.25"/>
<rect x="315.07" y="342.95" width="9.1" height="9.1" fill="#fddf8a" stroke="#3a3a3a" stroke-width="1"/>
<path d="M315.47,345.50H323.77M315.47,349.50H323.77M319.50,342.95V345.50M319.50,349.50V352.05" stroke="#2e2e2e" stroke-width="1" fill="none" opacity="0.25"/>
<rect x="341.18" y="288.45" width="9.1" height="9.1" fill="#fddf8a" stroke="#3a3a3a" stroke-width="1"/>
<path d="M341.58,291.50H349.88M341.58,294.50H349.88M345.50,288.45V291.50M345.50,294.50V297.55" stroke="#2e2e2e" stroke-width="1" fill="none" opacity="0.25"/>
<rect x="393.39" y="333.85" width="9.1" height="9.1" fill="#fddf8a" stroke="#3a3a3a" stroke-width="1"/>
<path d="M393.79,336.50H402.09M393.79,340.50H402.09M397.50,333.85V336.50M397.50,340.50V342.95" stroke="#2e2e2e" stroke-width="1" fill="none" opacity="0.25"/>
<rect x="448.87" y="300.25" width="9.1" height="9.1" fill="#fddf8a" stroke="#3a3a3a" stroke-width="1"/>
<path d="M449.27,303.50H457.57M449.27,306.50H457.57M453.50,300.25V303.50M453.50,306.50V309.35" stroke="#2e2e2e" stroke-width="1" fill="none" opacity="0.25"/>
<polyline points="293.52,297.20 296.78,295.20 300.04,315.00 306.57,334.30 319.62,363.20 345.73,300.60 397.94,341.70 453.42,308.50" fill="none" stroke="#404040" stroke-width="1" stroke-dasharray="2.3 1.8"/>
<polygon points="286.82,293.40 300.22,293.40 293.52,304.80" fill="#f98c55" stroke="#3a3a3a" stroke-width="1"/>
<path d="M288.69,295.50H298.35M290.21,298.50H296.82M293.50,293.40V295.50M293.50,298.50V304.80" stroke="#2e2e2e" stroke-width="1" fill="none" opacity="0.25"/>
<polygon points="290.08,291.40 303.48,291.40 296.78,302.80" fill="#f98c55" stroke="#3a3a3a" stroke-width="1"/>
<path d="M291.95,293.50H301.61M293.48,296.50H300.08M296.50,291.40V293.50M296.50,296.50V302.80" stroke="#2e2e2e" stroke-width="1" fill="none" opacity="0.25"/>
<polygon points="293.34,311.20 306.74,311.20 300.04,322.60" fill="#f98c55" stroke="#3a3a3a" stroke-width="1"/>
<path d="M295.21,313.50H304.87M296.74,316.50H303.35M300.50,311.20V313.50M300.50,316.50V322.60" stroke="#2e2e2e" stroke-width="1" fill="none" opacity="0.25"/>
<polygon points="299.87,330.50 313.27,330.50 306.57,341.90" fill="#f98c55" stroke="#3a3a3a" stroke-width="1"/>
<path d="M303.77,325.30H309.37M303.77,343.30H309.37M306.57,330.50V325.30M306.57,341.90V343.30" stroke="#555" stroke-width="1" fill="none" opacity="0.75"/>
<polygon points="312.92,359.40 326.32,359.40 319.62,370.80" fill="#f98c55" stroke="#3a3a3a" stroke-width="1"/>
<path d="M314.79,361.50H324.45M316.32,364.50H322.93M319.50,359.40V361.50M319.50,364.50V370.80" stroke="#2e2e2e" stroke-width="1" fill="none" opacity="0.25"/>
<polygon points="339.03,296.80 352.43,296.80 345.73,308.20" fill="#f98c55" stroke="#3a3a3a" stroke-width="1"/>
<path d="M340.90,299.50H350.56M342.43,301.50H349.03M345.50,296.80V299.50M345.50,301.50V308.20" stroke="#2e2e2e" stroke-width="1" fill="none" opacity="0.25"/>
<polygon points="391.24,337.90 404.64,337.90 397.94,349.30" fill="#f98c55" stroke="#3a3a3a" stroke-width="1"/>
<path d="M393.11,340.50H402.77M394.64,343.50H401.25M397.50,337.90V340.50M397.50,343.50V349.30" stroke="#2e2e2e" stroke-width="1" fill="none" opacity="0.25"/>
<polygon points="446.72,304.70 460.12,304.70 453.42,316.10" fill="#f98c55" stroke="#3a3a3a" stroke-width="1"/>
<path d="M448.59,307.50H458.25M450.12,309.50H456.72M453.50,304.70V307.50M453.50,309.50V316.10" stroke="#2e2e2e" stroke-width="1" fill="none" opacity="0.25"/>
<rect x="277.2" y="236.7" width="195.8" height="195.6" fill="none" stroke="#3c3c3c" stroke-width="1.3"/>
<path d="M293.52,432.30v-5.5M293.52,236.70v5.5M326.15,432.30v-5.5M326.15,236.70v5.5M358.78,432.30v-5.5M358.78,236.70v5.5M391.42,432.30v-5.5M391.42,236.70v5.5M424.05,432.30v-5.5M424.05,236.70v5.5M456.68,432.30v-5.5M456.68,236.70v5.5M309.83,432.30v-3M309.83,236.70v3M342.47,432.30v-3M342.47,236.70v3M375.10,432.30v-3M375.10,236.70v3M407.73,432.30v-3M407.73,236.70v3M440.37,432.30v-3M440.37,236.70v3M277.20,423.41h5.5M473.00,423.41h-5.5M277.20,370.06h5.5M473.00,370.06h-5.5M277.20,316.72h5.5M473.00,316.72h-5.5M277.20,263.37h5.5M473.00,263.37h-5.5M277.20,396.74h3M473.00,396.74h-3M277.20,343.39h3M473.00,343.39h-3M277.20,290.05h3M473.00,290.05h-3" stroke="#3c3c3c" stroke-width="1.2" fill="none"/>
<polyline points="504.32,281.20 507.58,279.50 510.84,281.00 517.37,279.70 530.42,280.10 556.53,280.40 608.74,281.50 664.22,296.40" fill="none" stroke="#404040" stroke-width="1" stroke-dasharray="2.3 1.8"/>
<circle cx="504.32" cy="281.20" r="5.15" fill="#8cbdd9" stroke="#3a3a3a" stroke-width="1"/>
<path d="M499.71,280.50H508.92M499.71,282.50H508.92M504.50,276.05V280.50M504.50,282.50V286.35" stroke="#2e2e2e" stroke-width="1" fill="none" opacity="0.25"/>
<circle cx="507.58" cy="279.50" r="5.15" fill="#8cbdd9" stroke="#3a3a3a" stroke-width="1"/>
<path d="M502.97,278.50H512.19M502.97,280.50H512.19M507.50,274.35V278.50M507.50,280.50V284.65" stroke="#2e2e2e" stroke-width="1" fill="none" opacity="0.25"/>
<circle cx="510.84" cy="281.00" r="5.15" fill="#8cbdd9" stroke="#3a3a3a" stroke-width="1"/>
<path d="M506.24,279.50H515.45M506.24,282.50H515.45M510.50,275.85V279.50M510.50,282.50V286.15" stroke="#2e2e2e" stroke-width="1" fill="none" opacity="0.25"/>
<circle cx="517.37" cy="279.70" r="5.15" fill="#8cbdd9" stroke="#3a3a3a" stroke-width="1"/>
<path d="M512.76,278.50H521.98M512.76,280.50H521.98M517.50,274.55V278.50M517.50,280.50V284.85" stroke="#2e2e2e" stroke-width="1" fill="none" opacity="0.25"/>
<circle cx="530.42" cy="280.10" r="5.15" fill="#8cbdd9" stroke="#3a3a3a" stroke-width="1"/>
<path d="M525.82,278.50H535.03M525.82,281.50H535.03M530.50,274.95V278.50M530.50,281.50V285.25" stroke="#2e2e2e" stroke-width="1" fill="none" opacity="0.25"/>
<circle cx="556.53" cy="280.40" r="5.15" fill="#8cbdd9" stroke="#3a3a3a" stroke-width="1"/>
<path d="M551.92,279.50H561.14M551.92,281.50H561.14M556.50,275.25V279.50M556.50,281.50V285.55" stroke="#2e2e2e" stroke-width="1" fill="none" opacity="0.25"/>
<circle cx="608.74" cy="281.50" r="5.15" fill="#8cbdd9" stroke="#3a3a3a" stroke-width="1"/>
<path d="M604.14,280.50H613.35M604.14,282.50H613.35M608.50,276.35V280.50M608.50,282.50V286.65" stroke="#2e2e2e" stroke-width="1" fill="none" opacity="0.25"/>
<circle cx="664.22" cy="296.40" r="5.15" fill="#8cbdd9" stroke="#3a3a3a" stroke-width="1"/>
<path d="M659.61,295.50H668.83M659.61,297.50H668.83M664.50,291.25V295.50M664.50,297.50V301.55" stroke="#2e2e2e" stroke-width="1" fill="none" opacity="0.25"/>
<polyline points="504.32,285.40 507.58,284.40 510.84,285.40 517.37,282.00 530.42,286.70 556.53,284.10 608.74,295.80 664.22,300.40" fill="none" stroke="#404040" stroke-width="1" stroke-dasharray="2.3 1.8"/>
<polygon points="504.32,277.80 511.02,289.20 497.62,289.20" fill="#d8eef6" stroke="#3a3a3a" stroke-width="1"/>
<path d="M500.25,285.50H508.38M504.50,277.80V289.20" stroke="#2e2e2e" stroke-width="1" fill="none" opacity="0.25"/>
<polygon points="507.58,276.80 514.28,288.20 500.88,288.20" fill="#d8eef6" stroke="#3a3a3a" stroke-width="1"/>
<path d="M503.51,284.50H511.65M507.50,276.80V288.20" stroke="#2e2e2e" stroke-width="1" fill="none" opacity="0.25"/>
<polygon points="510.84,277.80 517.54,289.20 504.14,289.20" fill="#d8eef6" stroke="#3a3a3a" stroke-width="1"/>
<path d="M506.78,285.50H514.91M510.50,277.80V289.20" stroke="#2e2e2e" stroke-width="1" fill="none" opacity="0.25"/>
<polygon points="517.37,274.40 524.07,285.80 510.67,285.80" fill="#d8eef6" stroke="#3a3a3a" stroke-width="1"/>
<path d="M513.30,282.50H521.44M517.50,274.40V285.80" stroke="#2e2e2e" stroke-width="1" fill="none" opacity="0.25"/>
<polygon points="530.42,279.10 537.12,290.50 523.72,290.50" fill="#d8eef6" stroke="#3a3a3a" stroke-width="1"/>
<path d="M526.36,286.50H534.49M530.50,279.10V290.50" stroke="#2e2e2e" stroke-width="1" fill="none" opacity="0.25"/>
<polygon points="556.53,276.50 563.23,287.90 549.83,287.90" fill="#d8eef6" stroke="#3a3a3a" stroke-width="1"/>
<path d="M552.46,284.50H560.60M556.50,276.50V287.90" stroke="#2e2e2e" stroke-width="1" fill="none" opacity="0.25"/>
<polygon points="608.74,288.20 615.44,299.60 602.04,299.60" fill="#d8eef6" stroke="#3a3a3a" stroke-width="1"/>
<path d="M604.68,295.50H612.81M608.50,288.20V299.60" stroke="#2e2e2e" stroke-width="1" fill="none" opacity="0.25"/>
<polygon points="664.22,292.80 670.92,304.20 657.52,304.20" fill="#d8eef6" stroke="#3a3a3a" stroke-width="1"/>
<path d="M660.15,300.50H668.29M664.50,292.80V304.20" stroke="#2e2e2e" stroke-width="1" fill="none" opacity="0.25"/>
<polyline points="504.32,288.50 507.58,286.50 510.84,287.50 517.37,288.50 530.42,289.50 556.53,290.10 608.74,307.80 664.22,300.10" fill="none" stroke="#404040" stroke-width="1" stroke-dasharray="2.3 1.8"/>
<rect x="499.77" y="283.95" width="9.1" height="9.1" fill="#fddf8a" stroke="#3a3a3a" stroke-width="1"/>
<path d="M500.17,286.50H508.47M500.17,290.50H508.47M504.50,283.95V286.50M504.50,290.50V293.05" stroke="#2e2e2e" stroke-width="1" fill="none" opacity="0.25"/>
<rect x="503.03" y="281.95" width="9.1" height="9.1" fill="#fddf8a" stroke="#3a3a3a" stroke-width="1"/>
<path d="M503.43,284.50H511.73M503.43,288.50H511.73M507.50,281.95V284.50M507.50,288.50V291.05" stroke="#2e2e2e" stroke-width="1" fill="none" opacity="0.25"/>
<rect x="506.29" y="282.95" width="9.1" height="9.1" fill="#fddf8a" stroke="#3a3a3a" stroke-width="1"/>
<path d="M506.69,285.50H514.99M506.69,289.50H514.99M510.50,282.95V285.50M510.50,289.50V292.05" stroke="#2e2e2e" stroke-width="1" fill="none" opacity="0.25"/>
<rect x="512.82" y="283.95" width="9.1" height="9.1" fill="#fddf8a" stroke="#3a3a3a" stroke-width="1"/>
<path d="M513.22,286.50H521.52M513.22,290.50H521.52M517.50,283.95V286.50M517.50,290.50V293.05" stroke="#2e2e2e" stroke-width="1" fill="none" opacity="0.25"/>
<rect x="525.87" y="284.95" width="9.1" height="9.1" fill="#fddf8a" stroke="#3a3a3a" stroke-width="1"/>
<path d="M526.27,287.50H534.57M526.27,291.50H534.57M530.50,284.95V287.50M530.50,291.50V294.05" stroke="#2e2e2e" stroke-width="1" fill="none" opacity="0.25"/>
<rect x="551.98" y="285.55" width="9.1" height="9.1" fill="#fddf8a" stroke="#3a3a3a" stroke-width="1"/>
<path d="M552.38,288.50H560.68M552.38,291.50H560.68M556.50,285.55V288.50M556.50,291.50V294.65" stroke="#2e2e2e" stroke-width="1" fill="none" opacity="0.25"/>
<rect x="604.19" y="303.25" width="9.1" height="9.1" fill="#fddf8a" stroke="#3a3a3a" stroke-width="1"/>
<path d="M604.59,306.50H612.89M604.59,309.50H612.89M608.50,303.25V306.50M608.50,309.50V312.35" stroke="#2e2e2e" stroke-width="1" fill="none" opacity="0.25"/>
<rect x="659.67" y="295.55" width="9.1" height="9.1" fill="#fddf8a" stroke="#3a3a3a" stroke-width="1"/>
<path d="M660.07,298.50H668.37M660.07,301.50H668.37M664.50,295.55V298.50M664.50,301.50V304.65" stroke="#2e2e2e" stroke-width="1" fill="none" opacity="0.25"/>
<polyline points="504.32,290.50 507.58,291.60 510.84,298.20 517.37,293.10 530.42,294.60 556.53,296.90 608.74,317.20 664.22,305.00" fill="none" stroke="#404040" stroke-width="1" stroke-dasharray="2.3 1.8"/>
<polygon points="497.62,286.70 511.02,286.70 504.32,298.10" fill="#f98c55" stroke="#3a3a3a" stroke-width="1"/>
<path d="M499.49,289.50H509.15M501.01,291.50H507.62M504.50,286.70V289.50M504.50,291.50V298.10" stroke="#2e2e2e" stroke-width="1" fill="none" opacity="0.25"/>
<polygon points="500.88,287.80 514.28,287.80 507.58,299.20" fill="#f98c55" stroke="#3a3a3a" stroke-width="1"/>
<path d="M502.75,290.50H512.41M504.28,292.50H510.88M507.50,287.80V290.50M507.50,292.50V299.20" stroke="#2e2e2e" stroke-width="1" fill="none" opacity="0.25"/>
<polygon points="504.14,294.40 517.54,294.40 510.84,305.80" fill="#f98c55" stroke="#3a3a3a" stroke-width="1"/>
<path d="M506.01,296.50H515.67M507.54,299.50H514.15M510.50,294.40V296.50M510.50,299.50V305.80" stroke="#2e2e2e" stroke-width="1" fill="none" opacity="0.25"/>
<polygon points="510.67,289.30 524.07,289.30 517.37,300.70" fill="#f98c55" stroke="#3a3a3a" stroke-width="1"/>
<path d="M512.54,291.50H522.20M514.07,294.50H520.67M517.50,289.30V291.50M517.50,294.50V300.70" stroke="#2e2e2e" stroke-width="1" fill="none" opacity="0.25"/>
<polygon points="523.72,290.80 537.12,290.80 530.42,302.20" fill="#f98c55" stroke="#3a3a3a" stroke-width="1"/>
<path d="M525.59,293.50H535.25M527.12,295.50H533.73M530.50,290.80V293.50M530.50,295.50V302.20" stroke="#2e2e2e" stroke-width="1" fill="none" opacity="0.25"/>
<polygon points="549.83,293.10 563.23,293.10 556.53,304.50" fill="#f98c55" stroke="#3a3a3a" stroke-width="1"/>
<path d="M551.70,295.50H561.36M553.23,298.50H559.83M556.50,293.10V295.50M556.50,298.50V304.50" stroke="#2e2e2e" stroke-width="1" fill="none" opacity="0.25"/>
<polygon points="602.04,313.40 615.44,313.40 608.74,324.80" fill="#f98c55" stroke="#3a3a3a" stroke-width="1"/>
<path d="M603.91,315.50H613.57M605.44,318.50H612.05M608.50,313.40V315.50M608.50,318.50V324.80" stroke="#2e2e2e" stroke-width="1" fill="none" opacity="0.25"/>
<polygon points="657.52,301.20 670.92,301.20 664.22,312.60" fill="#f98c55" stroke="#3a3a3a" stroke-width="1"/>
<path d="M659.39,303.50H669.05M660.92,306.50H667.52M664.50,301.20V303.50M664.50,306.50V312.60" stroke="#2e2e2e" stroke-width="1" fill="none" opacity="0.25"/>
<rect x="488.0" y="236.7" width="195.8" height="195.6" fill="none" stroke="#3c3c3c" stroke-width="1.3"/>
<path d="M504.32,432.30v-5.5M504.32,236.70v5.5M536.95,432.30v-5.5M536.95,236.70v5.5M569.58,432.30v-5.5M569.58,236.70v5.5M602.22,432.30v-5.5M602.22,236.70v5.5M634.85,432.30v-5.5M634.85,236.70v5.5M667.48,432.30v-5.5M667.48,236.70v5.5M520.63,432.30v-3M520.63,236.70v3M553.27,432.30v-3M553.27,236.70v3M585.90,432.30v-3M585.90,236.70v3M618.53,432.30v-3M618.53,236.70v3M651.17,432.30v-3M651.17,236.70v3M488.00,423.41h5.5M683.80,423.41h-5.5M488.00,370.06h5.5M683.80,370.06h-5.5M488.00,316.72h5.5M683.80,316.72h-5.5M488.00,263.37h5.5M683.80,263.37h-5.5M488.00,396.74h3M683.80,396.74h-3M488.00,343.39h3M683.80,343.39h-3M488.00,290.05h3M683.80,290.05h-3" stroke="#3c3c3c" stroke-width="1.2" fill="none"/>
<polyline points="82.82,494.10 86.08,491.70 89.34,494.10 95.87,483.30 108.92,509.50 135.03,483.70 187.24,496.50 242.72,496.50" fill="none" stroke="#404040" stroke-width="1" stroke-dasharray="2.3 1.8"/>
<circle cx="82.82" cy="494.10" r="5.15" fill="#8cbdd9" stroke="#3a3a3a" stroke-width="1"/>
<circle cx="86.08" cy="491.70" r="5.15" fill="#8cbdd9" stroke="#3a3a3a" stroke-width="1"/>
<circle cx="89.34" cy="494.10" r="5.15" fill="#8cbdd9" stroke="#3a3a3a" stroke-width="1"/>
<circle cx="95.87" cy="483.30" r="5.15" fill="#8cbdd9" stroke="#3a3a3a" stroke-width="1"/>
<circle cx="108.92" cy="509.50" r="5.15" fill="#8cbdd9" stroke="#3a3a3a" stroke-width="1"/>
<circle cx="135.03" cy="483.70" r="5.15" fill="#8cbdd9" stroke="#3a3a3a" stroke-width="1"/>
<circle cx="187.24" cy="496.50" r="5.15" fill="#8cbdd9" stroke="#3a3a3a" stroke-width="1"/>
<circle cx="242.72" cy="496.50" r="5.15" fill="#8cbdd9" stroke="#3a3a3a" stroke-width="1"/>
<polyline points="82.82,585.53 86.08,588.33 89.34,580.23 95.87,588.13 108.92,569.73 135.03,548.93 187.24,551.63 242.72,546.43" fill="none" stroke="#404040" stroke-width="1" stroke-dasharray="2.3 1.8"/>
<polygon points="82.82,579.80 87.92,588.40 77.72,588.40" fill="#d8eef6" stroke="#3a3a3a" stroke-width="1"/>
<polygon points="86.08,582.60 91.18,591.20 80.98,591.20" fill="#d8eef6" stroke="#3a3a3a" stroke-width="1"/>
<polygon points="89.34,574.50 94.44,583.10 84.24,583.10" fill="#d8eef6" stroke="#3a3a3a" stroke-width="1"/>
<polygon points="95.87,582.40 100.97,591.00 90.77,591.00" fill="#d8eef6" stroke="#3a3a3a" stroke-width="1"/>
<polygon points="108.92,564.00 114.02,572.60 103.82,572.60" fill="#d8eef6" stroke="#3a3a3a" stroke-width="1"/>
<polygon points="135.03,543.20 140.13,551.80 129.93,551.80" fill="#d8eef6" stroke="#3a3a3a" stroke-width="1"/>
<polygon points="187.24,545.90 192.34,554.50 182.14,554.50" fill="#d8eef6" stroke="#3a3a3a" stroke-width="1"/>
<polygon points="242.72,540.70 247.82,549.30 237.62,549.30" fill="#d8eef6" stroke="#3a3a3a" stroke-width="1"/>
<polyline points="82.82,624.40 86.08,613.10 89.34,616.60 95.87,622.40 108.92,622.20 135.03,616.80 187.24,603.70 242.72,601.00" fill="none" stroke="#404040" stroke-width="1" stroke-dasharray="2.3 1.8"/>
<rect x="78.27" y="619.85" width="9.1" height="9.1" fill="#fddf8a" stroke="#3a3a3a" stroke-width="1"/>
<rect x="81.53" y="608.55" width="9.1" height="9.1" fill="#fddf8a" stroke="#3a3a3a" stroke-width="1"/>
<rect x="84.79" y="612.05" width="9.1" height="9.1" fill="#fddf8a" stroke="#3a3a3a" stroke-width="1"/>
<rect x="91.32" y="617.85" width="9.1" height="9.1" fill="#fddf8a" stroke="#3a3a3a" stroke-width="1"/>
<rect x="104.37" y="617.65" width="9.1" height="9.1" fill="#fddf8a" stroke="#3a3a3a" stroke-width="1"/>
<rect x="130.48" y="612.25" width="9.1" height="9.1" fill="#fddf8a" stroke="#3a3a3a" stroke-width="1"/>
<rect x="182.69" y="599.15" width="9.1" height="9.1" fill="#fddf8a" stroke="#3a3a3a" stroke-width="1"/>
<rect x="238.17" y="596.45" width="9.1" height="9.1" fill="#fddf8a" stroke="#3a3a3a" stroke-width="1"/>
<polyline points="82.82,625.10 86.08,626.70 89.34,624.90 95.87,626.10 108.92,625.90 135.03,621.90 187.24,626.90 242.72,626.90" fill="none" stroke="#404040" stroke-width="1" stroke-dasharray="2.3 1.8"/>
<polygon points="76.12,621.30 89.52,621.30 82.82,632.70" fill="#f98c55" stroke="#3a3a3a" stroke-width="1"/>
<polygon points="79.38,622.90 92.78,622.90 86.08,634.30" fill="#f98c55" stroke="#3a3a3a" stroke-width="1"/>
<polygon points="82.64,621.10 96.04,621.10 89.34,632.50" fill="#f98c55" stroke="#3a3a3a" stroke-width="1"/>
<polygon points="89.17,622.30 102.57,622.30 95.87,633.70" fill="#f98c55" stroke="#3a3a3a" stroke-width="1"/>
<polygon points="102.22,622.10 115.62,622.10 108.92,633.50" fill="#f98c55" stroke="#3a3a3a" stroke-width="1"/>
<polygon points="128.33,618.10 141.73,618.10 135.03,629.50" fill="#f98c55" stroke="#3a3a3a" stroke-width="1"/>
<polygon points="180.54,623.10 193.94,623.10 187.24,634.50" fill="#f98c55" stroke="#3a3a3a" stroke-width="1"/>
<polygon points="236.02,623.10 249.42,623.10 242.72,634.50" fill="#f98c55" stroke="#3a3a3a" stroke-width="1"/>
<rect x="66.5" y="447.3" width="195.8" height="195.6" fill="none" stroke="#3c3c3c" stroke-width="1.3"/>
<path d="M82.82,642.90v-5.5M82.82,447.30v5.5M115.45,642.90v-5.5M115.45,447.30v5.5M148.08,642.90v-5.5M148.08,447.30v5.5M180.72,642.90v-5.5M180.72,447.30v5.5M213.35,642.90v-5.5M213.35,447.30v5.5M245.98,642.90v-5.5M245.98,447.30v5.5M99.13,642.90v-3M99.13,447.30v3M131.77,642.90v-3M131.77,447.30v3M164.40,642.90v-3M164.40,447.30v3M197.03,642.90v-3M197.03,447.30v3M229.67,642.90v-3M229.67,447.30v3M66.50,629.86h5.5M262.30,629.86h-5.5M66.50,577.70h5.5M262.30,577.70h-5.5M66.50,525.54h5.5M262.30,525.54h-5.5M66.50,473.38h5.5M262.30,473.38h-5.5M66.50,603.78h3M262.30,603.78h-3M66.50,551.62h3M262.30,551.62h-3M66.50,499.46h3M262.30,499.46h-3" stroke="#3c3c3c" stroke-width="1.2" fill="none"/>
<polyline points="293.52,499.30 296.78,499.30 300.04,480.80 306.57,499.30 319.62,489.00 345.73,502.20 397.94,491.80 453.42,494.10" fill="none" stroke="#404040" stroke-width="1" stroke-dasharray="2.3 1.8"/>
<circle cx="293.52" cy="499.30" r="5.15" fill="#8cbdd9" stroke="#3a3a3a" stroke-width="1"/>
<circle cx="296.78" cy="499.30" r="5.15" fill="#8cbdd9" stroke="#3a3a3a" stroke-width="1"/>
<circle cx="300.04" cy="480.80" r="5.15" fill="#8cbdd9" stroke="#3a3a3a" stroke-width="1"/>
<circle cx="306.57" cy="499.30" r="5.15" fill="#8cbdd9" stroke="#3a3a3a" stroke-width="1"/>
<circle cx="319.62" cy="489.00" r="5.15" fill="#8cbdd9" stroke="#3a3a3a" stroke-width="1"/>
<circle cx="345.73" cy="502.20" r="5.15" fill="#8cbdd9" stroke="#3a3a3a" stroke-width="1"/>
<circle cx="397.94" cy="491.80" r="5.15" fill="#8cbdd9" stroke="#3a3a3a" stroke-width="1"/>
<circle cx="453.42" cy="494.10" r="5.15" fill="#8cbdd9" stroke="#3a3a3a" stroke-width="1"/>
<polyline points="293.52,562.60 296.78,548.70 300.04,554.70 306.57,538.70 319.62,509.70 345.73,525.40 397.94,525.40 453.42,522.70" fill="none" stroke="#404040" stroke-width="1" stroke-dasharray="2.3 1.8"/>
<polygon points="293.52,555.00 300.22,566.40 286.82,566.40" fill="#d8eef6" stroke="#3a3a3a" stroke-width="1"/>
<polygon points="296.78,541.10 303.48,552.50 290.08,552.50" fill="#d8eef6" stroke="#3a3a3a" stroke-width="1"/>
<polygon points="300.04,547.10 306.74,558.50 293.34,558.50" fill="#d8eef6" stroke="#3a3a3a" stroke-width="1"/>
<polygon points="306.57,531.10 313.27,542.50 299.87,542.50" fill="#d8eef6" stroke="#3a3a3a" stroke-width="1"/>
<polygon points="319.62,502.10 326.32,513.50 312.92,513.50" fill="#d8eef6" stroke="#3a3a3a" stroke-width="1"/>
<polygon points="345.73,517.80 352.43,529.20 339.03,529.20" fill="#d8eef6" stroke="#3a3a3a" stroke-width="1"/>
<polygon points="397.94,517.80 404.64,529.20 391.24,529.20" fill="#d8eef6" stroke="#3a3a3a" stroke-width="1"/>
<polygon points="453.42,515.10 460.12,526.50 446.72,526.50" fill="#d8eef6" stroke="#3a3a3a" stroke-width="1"/>
<polyline points="293.52,574.60 296.78,578.00 300.04,572.40 306.57,572.40 319.62,569.20 345.73,548.80 397.94,541.20 453.42,538.50" fill="none" stroke="#404040" stroke-width="1" stroke-dasharray="2.3 1.8"/>
<rect x="288.97" y="570.05" width="9.1" height="9.1" fill="#fddf8a" stroke="#3a3a3a" stroke-width="1"/>
<rect x="292.23" y="573.45" width="9.1" height="9.1" fill="#fddf8a" stroke="#3a3a3a" stroke-width="1"/>
<rect x="295.49" y="567.85" width="9.1" height="9.1" fill="#fddf8a" stroke="#3a3a3a" stroke-width="1"/>
<rect x="302.02" y="567.85" width="9.1" height="9.1" fill="#fddf8a" stroke="#3a3a3a" stroke-width="1"/>
<rect x="315.07" y="564.65" width="9.1" height="9.1" fill="#fddf8a" stroke="#3a3a3a" stroke-width="1"/>
<rect x="341.18" y="544.25" width="9.1" height="9.1" fill="#fddf8a" stroke="#3a3a3a" stroke-width="1"/>
<rect x="393.39" y="536.65" width="9.1" height="9.1" fill="#fddf8a" stroke="#3a3a3a" stroke-width="1"/>
<rect x="448.87" y="533.95" width="9.1" height="9.1" fill="#fddf8a" stroke="#3a3a3a" stroke-width="1"/>
<polyline points="293.52,583.80 296.78,592.70 300.04,579.60 306.57,583.10 319.62,577.70 345.73,580.10 397.94,580.10 453.42,582.80" fill="none" stroke="#8e2a96" stroke-width="1" stroke-dasharray="2.3 1.8"/>
<polygon points="286.82,580.00 300.22,580.00 293.52,591.40" fill="#f98c55" stroke="#3a3a3a" stroke-width="1"/>
<polygon points="290.08,588.90 303.48,588.90 296.78,600.30" fill="#f98c55" stroke="#3a3a3a" stroke-width="1"/>
<polygon points="293.34,575.80 306.74,575.80 300.04,587.20" fill="#f98c55" stroke="#3a3a3a" stroke-width="1"/>
<polygon points="299.87,579.30 313.27,579.30 306.57,590.70" fill="#f98c55" stroke="#3a3a3a" stroke-width="1"/>
<polygon points="312.92,573.90 326.32,573.90 319.62,585.30" fill="#f98c55" stroke="#3a3a3a" stroke-width="1"/>
<polygon points="339.03,576.30 352.43,576.30 345.73,587.70" fill="#f98c55" stroke="#3a3a3a" stroke-width="1"/>
<polygon points="391.24,576.30 404.64,576.30 397.94,587.70" fill="#f98c55" stroke="#3a3a3a" stroke-width="1"/>
<polygon points="446.72,579.00 460.12,579.00 453.42,590.40" fill="#f98c55" stroke="#3a3a3a" stroke-width="1"/>
<rect x="277.2" y="447.3" width="195.8" height="195.6" fill="none" stroke="#3c3c3c" stroke-width="1.3"/>
<path d="M293.52,642.90v-5.5M293.52,447.30v5.5M326.15,642.90v-5.5M326.15,447.30v5.5M358.78,642.90v-5.5M358.78,447.30v5.5M391.42,642.90v-5.5M391.42,447.30v5.5M424.05,642.90v-5.5M424.05,447.30v5.5M456.68,642.90v-5.5M456.68,447.30v5.5M309.83,642.90v-3M309.83,447.30v3M342.47,642.90v-3M342.47,447.30v3M375.10,642.90v-3M375.10,447.30v3M407.73,642.90v-3M407.73,447.30v3M440.37,642.90v-3M440.37,447.30v3M277.20,629.86h5.5M473.00,629.86h-5.5M277.20,577.70h5.5M473.00,577.70h-5.5M277.20,525.54h5.5M473.00,525.54h-5.5M277.20,473.38h5.5M473.00,473.38h-5.5M277.20,603.78h3M473.00,603.78h-3M277.20,551.62h3M473.00,551.62h-3M277.20,499.46h3M473.00,499.46h-3" stroke="#3c3c3c" stroke-width="1.2" fill="none"/>
<polyline points="504.32,533.30 507.58,533.30 510.84,519.90 517.37,525.20 530.42,525.90 556.53,525.30 608.74,504.70 664.22,525.40" fill="none" stroke="#404040" stroke-width="1" stroke-dasharray="2.3 1.8"/>
<circle cx="504.32" cy="533.30" r="5.15" fill="#8cbdd9" stroke="#3a3a3a" stroke-width="1"/>
<circle cx="507.58" cy="533.30" r="5.15" fill="#8cbdd9" stroke="#3a3a3a" stroke-width="1"/>
<circle cx="510.84" cy="519.90" r="5.15" fill="#8cbdd9" stroke="#3a3a3a" stroke-width="1"/>
<circle cx="517.37" cy="525.20" r="5.15" fill="#8cbdd9" stroke="#3a3a3a" stroke-width="1"/>
<circle cx="530.42" cy="525.90" r="5.15" fill="#8cbdd9" stroke="#3a3a3a" stroke-width="1"/>
<circle cx="556.53" cy="525.30" r="5.15" fill="#8cbdd9" stroke="#3a3a3a" stroke-width="1"/>
<circle cx="608.74" cy="504.70" r="5.15" fill="#8cbdd9" stroke="#3a3a3a" stroke-width="1"/>
<circle cx="664.22" cy="525.40" r="5.15" fill="#8cbdd9" stroke="#3a3a3a" stroke-width="1"/>
<polyline points="504.32,553.75 507.58,551.55 510.84,558.90 517.37,528.10 530.42,530.60 556.53,530.50 608.74,509.50 664.22,528.80" fill="none" stroke="#404040" stroke-width="1" stroke-dasharray="2.3 1.8"/>
<polygon points="504.32,546.15 511.02,557.55 497.62,557.55" fill="#d8eef6" stroke="#3a3a3a" stroke-width="1"/>
<polygon points="507.58,543.95 514.28,555.35 500.88,555.35" fill="#d8eef6" stroke="#3a3a3a" stroke-width="1"/>
<polygon points="510.84,551.30 517.54,562.70 504.14,562.70" fill="#d8eef6" stroke="#3a3a3a" stroke-width="1"/>
<polygon points="517.37,520.50 524.07,531.90 510.67,531.90" fill="#d8eef6" stroke="#3a3a3a" stroke-width="1"/>
<polygon points="530.42,523.00 537.12,534.40 523.72,534.40" fill="#d8eef6" stroke="#3a3a3a" stroke-width="1"/>
<polygon points="556.53,522.90 563.23,534.30 549.83,534.30" fill="#d8eef6" stroke="#3a3a3a" stroke-width="1"/>
<polygon points="608.74,501.90 615.44,513.30 602.04,513.30" fill="#d8eef6" stroke="#3a3a3a" stroke-width="1"/>
<polygon points="664.22,521.20 670.92,532.60 657.52,532.60" fill="#d8eef6" stroke="#3a3a3a" stroke-width="1"/>
<polyline points="504.32,572.60 507.58,572.60 510.84,562.30 517.37,533.20 530.42,546.50 556.53,549.20 608.74,525.30 664.22,546.40" fill="none" stroke="#404040" stroke-width="1" stroke-dasharray="2.3 1.8"/>
<rect x="499.77" y="568.05" width="9.1" height="9.1" fill="#fddf8a" stroke="#3a3a3a" stroke-width="1"/>
<rect x="503.03" y="568.05" width="9.1" height="9.1" fill="#fddf8a" stroke="#3a3a3a" stroke-width="1"/>
<rect x="506.29" y="557.75" width="9.1" height="9.1" fill="#fddf8a" stroke="#3a3a3a" stroke-width="1"/>
<rect x="512.82" y="528.65" width="9.1" height="9.1" fill="#fddf8a" stroke="#3a3a3a" stroke-width="1"/>
<rect x="525.87" y="541.95" width="9.1" height="9.1" fill="#fddf8a" stroke="#3a3a3a" stroke-width="1"/>
<rect x="551.98" y="544.65" width="9.1" height="9.1" fill="#fddf8a" stroke="#3a3a3a" stroke-width="1"/>
<rect x="604.19" y="520.75" width="9.1" height="9.1" fill="#fddf8a" stroke="#3a3a3a" stroke-width="1"/>
<rect x="659.67" y="541.85" width="9.1" height="9.1" fill="#fddf8a" stroke="#3a3a3a" stroke-width="1"/>
<polyline points="504.32,577.70 507.58,574.70 510.84,564.50 517.37,549.10 530.42,551.90 556.53,551.80 608.74,538.40 664.22,556.80" fill="none" stroke="#404040" stroke-width="1" stroke-dasharray="2.3 1.8"/>
<polygon points="497.62,573.90 511.02,573.90 504.32,585.30" fill="#f98c55" stroke="#3a3a3a" stroke-width="1"/>
<polygon points="500.88,570.90 514.28,570.90 507.58,582.30" fill="#f98c55" stroke="#3a3a3a" stroke-width="1"/>
<polygon points="504.14,560.70 517.54,560.70 510.84,572.10" fill="#f98c55" stroke="#3a3a3a" stroke-width="1"/>
<polygon points="510.67,545.30 524.07,545.30 517.37,556.70" fill="#f98c55" stroke="#3a3a3a" stroke-width="1"/>
<polygon points="523.72,548.10 537.12,548.10 530.42,559.50" fill="#f98c55" stroke="#3a3a3a" stroke-width="1"/>
<polygon points="549.83,548.00 563.23,548.00 556.53,559.40" fill="#f98c55" stroke="#3a3a3a" stroke-width="1"/>
<polygon points="602.04,534.60 615.44,534.60 608.74,546.00" fill="#f98c55" stroke="#3a3a3a" stroke-width="1"/>
<polygon points="657.52,553.00 670.92,553.00 664.22,564.40" fill="#f98c55" stroke="#3a3a3a" stroke-width="1"/>
<rect x="488.0" y="447.3" width="195.8" height="195.6" fill="none" stroke="#3c3c3c" stroke-width="1.3"/>
<path d="M504.32,642.90v-5.5M504.32,447.30v5.5M536.95,642.90v-5.5M536.95,447.30v5.5M569.58,642.90v-5.5M569.58,447.30v5.5M602.22,642.90v-5.5M602.22,447.30v5.5M634.85,642.90v-5.5M634.85,447.30v5.5M667.48,642.90v-5.5M667.48,447.30v5.5M520.63,642.90v-3M520.63,447.30v3M553.27,642.90v-3M553.27,447.30v3M585.90,642.90v-3M585.90,447.30v3M618.53,642.90v-3M618.53,447.30v3M651.17,642.90v-3M651.17,447.30v3M488.00,629.86h5.5M683.80,629.86h-5.5M488.00,577.70h5.5M683.80,577.70h-5.5M488.00,525.54h5.5M683.80,525.54h-5.5M488.00,473.38h5.5M683.80,473.38h-5.5M488.00,603.78h3M683.80,603.78h-3M488.00,551.62h3M683.80,551.62h-3M488.00,499.46h3M683.80,499.46h-3" stroke="#3c3c3c" stroke-width="1.2" fill="none"/>
<polyline points="82.82,799.80 86.08,799.80 89.34,799.80 95.87,800.20 108.92,808.10 135.03,811.60 187.24,801.50 239.46,802.90" fill="none" stroke="#404040" stroke-width="1" stroke-dasharray="2.3 1.8"/>
<circle cx="82.82" cy="799.80" r="5.15" fill="#8cbdd9" stroke="#3a3a3a" stroke-width="1"/>
<path d="M78.21,798.50H87.42M78.21,801.50H87.42M82.50,794.65V798.50M82.50,801.50V804.95" stroke="#2e2e2e" stroke-width="1" fill="none" opacity="0.85"/>
<circle cx="86.08" cy="799.80" r="5.15" fill="#8cbdd9" stroke="#3a3a3a" stroke-width="1"/>
<path d="M81.47,798.50H90.69M81.47,801.50H90.69M86.50,794.65V798.50M86.50,801.50V804.95" stroke="#2e2e2e" stroke-width="1" fill="none" opacity="0.85"/>
<circle cx="89.34" cy="799.80" r="5.15" fill="#8cbdd9" stroke="#3a3a3a" stroke-width="1"/>
<path d="M84.74,798.50H93.95M84.74,801.50H93.95M89.50,794.65V798.50M89.50,801.50V804.95" stroke="#2e2e2e" stroke-width="1" fill="none" opacity="0.85"/>
<circle cx="95.87" cy="800.20" r="5.15" fill="#8cbdd9" stroke="#3a3a3a" stroke-width="1"/>
<path d="M91.26,799.50H100.48M91.26,801.50H100.48M95.50,795.05V799.50M95.50,801.50V805.35" stroke="#2e2e2e" stroke-width="1" fill="none" opacity="0.85"/>
<circle cx="108.92" cy="808.10" r="5.15" fill="#8cbdd9" stroke="#3a3a3a" stroke-width="1"/>
<path d="M104.32,806.50H113.53M104.32,809.50H113.53M108.50,802.95V806.50M108.50,809.50V813.25" stroke="#2e2e2e" stroke-width="1" fill="none" opacity="0.85"/>
<circle cx="135.03" cy="811.60" r="5.15" fill="#8cbdd9" stroke="#3a3a3a" stroke-width="1"/>
<path d="M130.42,810.50H139.64M130.42,812.50H139.64M135.50,806.45V810.50M135.50,812.50V816.75" stroke="#2e2e2e" stroke-width="1" fill="none" opacity="0.85"/>
<circle cx="187.24" cy="801.50" r="5.15" fill="#8cbdd9" stroke="#3a3a3a" stroke-width="1"/>
<path d="M182.64,800.50H191.85M182.64,802.50H191.85M187.50,796.35V800.50M187.50,802.50V806.65" stroke="#2e2e2e" stroke-width="1" fill="none" opacity="0.85"/>
<circle cx="239.46" cy="802.90" r="5.15" fill="#8cbdd9" stroke="#3a3a3a" stroke-width="1"/>
<path d="M234.85,801.50H244.06M234.85,804.50H244.06M239.50,797.75V801.50M239.50,804.50V808.05" stroke="#2e2e2e" stroke-width="1" fill="none" opacity="0.85"/>
<polyline points="82.82,763.70 86.08,763.70 89.34,762.70 95.87,764.50 108.92,784.50 135.03,790.50 187.24,774.80 239.46,779.50" fill="none" stroke="#404040" stroke-width="1" stroke-dasharray="2.3 1.8"/>
<polygon points="82.82,756.10 89.52,767.50 76.12,767.50" fill="#d8eef6" stroke="#3a3a3a" stroke-width="1"/>
<path d="M78.75,763.50H86.88M82.50,756.10V767.50" stroke="#2e2e2e" stroke-width="1" fill="none" opacity="0.85"/>
<polygon points="86.08,756.10 92.78,767.50 79.38,767.50" fill="#d8eef6" stroke="#3a3a3a" stroke-width="1"/>
<path d="M82.01,763.50H90.15M86.50,756.10V767.50" stroke="#2e2e2e" stroke-width="1" fill="none" opacity="0.85"/>
<polygon points="89.34,755.10 96.04,766.50 82.64,766.50" fill="#d8eef6" stroke="#3a3a3a" stroke-width="1"/>
<path d="M85.28,762.50H93.41M89.50,755.10V766.50" stroke="#2e2e2e" stroke-width="1" fill="none" opacity="0.85"/>
<polygon points="95.87,756.90 102.57,768.30 89.17,768.30" fill="#d8eef6" stroke="#3a3a3a" stroke-width="1"/>
<path d="M91.80,764.50H99.94M95.50,756.90V768.30" stroke="#2e2e2e" stroke-width="1" fill="none" opacity="0.85"/>
<polygon points="108.92,776.90 115.62,788.30 102.22,788.30" fill="#d8eef6" stroke="#3a3a3a" stroke-width="1"/>
<path d="M104.86,784.50H112.99M108.50,776.90V788.30" stroke="#2e2e2e" stroke-width="1" fill="none" opacity="0.85"/>
<polygon points="135.03,782.90 141.73,794.30 128.33,794.30" fill="#d8eef6" stroke="#3a3a3a" stroke-width="1"/>
<path d="M130.96,790.50H139.10M135.50,782.90V794.30" stroke="#2e2e2e" stroke-width="1" fill="none" opacity="0.85"/>
<polygon points="187.24,767.20 193.94,778.60 180.54,778.60" fill="#d8eef6" stroke="#3a3a3a" stroke-width="1"/>
<path d="M183.18,774.50H191.31M187.50,767.20V778.60" stroke="#2e2e2e" stroke-width="1" fill="none" opacity="0.85"/>
<polygon points="239.46,771.90 246.16,783.30 232.76,783.30" fill="#d8eef6" stroke="#3a3a3a" stroke-width="1"/>
<path d="M235.39,779.50H243.52M239.50,771.90V783.30" stroke="#2e2e2e" stroke-width="1" fill="none" opacity="0.85"/>
<polyline points="82.82,741.50 86.08,738.30 89.34,738.00 95.87,738.90 108.92,764.00 135.03,764.00 187.24,745.90 239.46,747.20" fill="none" stroke="#404040" stroke-width="1" stroke-dasharray="2.3 1.8"/>
<rect x="78.27" y="736.95" width="9.1" height="9.1" fill="#fddf8a" stroke="#3a3a3a" stroke-width="1"/>
<path d="M78.67,739.50H86.97M78.67,743.50H86.97M82.50,736.95V739.50M82.50,743.50V746.05" stroke="#2e2e2e" stroke-width="1" fill="none" opacity="0.85"/>
<rect x="81.53" y="733.75" width="9.1" height="9.1" fill="#fddf8a" stroke="#3a3a3a" stroke-width="1"/>
<path d="M81.93,736.50H90.23M81.93,740.50H90.23M86.50,733.75V736.50M86.50,740.50V742.85" stroke="#2e2e2e" stroke-width="1" fill="none" opacity="0.85"/>
<rect x="84.79" y="733.45" width="9.1" height="9.1" fill="#fddf8a" stroke="#3a3a3a" stroke-width="1"/>
<path d="M85.19,736.50H93.49M85.19,739.50H93.49M89.50,733.45V736.50M89.50,739.50V742.55" stroke="#2e2e2e" stroke-width="1" fill="none" opacity="0.85"/>
<rect x="91.32" y="734.35" width="9.1" height="9.1" fill="#fddf8a" stroke="#3a3a3a" stroke-width="1"/>
<path d="M91.72,737.50H100.02M91.72,740.50H100.02M95.50,734.35V737.50M95.50,740.50V743.45" stroke="#2e2e2e" stroke-width="1" fill="none" opacity="0.85"/>
<rect x="104.37" y="759.45" width="9.1" height="9.1" fill="#fddf8a" stroke="#3a3a3a" stroke-width="1"/>
<path d="M104.77,762.50H113.07M104.77,765.50H113.07M108.50,759.45V762.50M108.50,765.50V768.55" stroke="#2e2e2e" stroke-width="1" fill="none" opacity="0.85"/>
<rect x="130.48" y="759.45" width="9.1" height="9.1" fill="#fddf8a" stroke="#3a3a3a" stroke-width="1"/>
<rect x="182.69" y="741.35" width="9.1" height="9.1" fill="#fddf8a" stroke="#3a3a3a" stroke-width="1"/>
<path d="M183.09,744.50H191.39M183.09,747.50H191.39M187.50,741.35V744.50M187.50,747.50V750.45" stroke="#2e2e2e" stroke-width="1" fill="none" opacity="0.85"/>
<rect x="234.91" y="742.65" width="9.1" height="9.1" fill="#fddf8a" stroke="#3a3a3a" stroke-width="1"/>
<path d="M235.31,745.50H243.61M235.31,749.50H243.61M239.50,742.65V745.50M239.50,749.50V751.75" stroke="#2e2e2e" stroke-width="1" fill="none" opacity="0.85"/>
<polyline points="82.82,721.80 86.08,718.90 89.34,719.50 95.87,722.70 108.92,750.80 135.03,733.00 187.24,725.10 239.46,727.60" fill="none" stroke="#8e2a96" stroke-width="1" stroke-dasharray="2.3 1.8"/>
<polygon points="76.12,718.00 89.52,718.00 82.82,729.40" fill="#f98c55" stroke="#3a3a3a" stroke-width="1"/>
<path d="M77.99,720.50H87.65M79.51,723.50H86.12M82.50,718.00V720.50M82.50,723.50V729.40" stroke="#2e2e2e" stroke-width="1" fill="none" opacity="0.85"/>
<polygon points="79.38,715.10 92.78,715.10 86.08,726.50" fill="#f98c55" stroke="#3a3a3a" stroke-width="1"/>
<path d="M81.25,717.50H90.91M82.78,720.50H89.38M86.50,715.10V717.50M86.50,720.50V726.50" stroke="#2e2e2e" stroke-width="1" fill="none" opacity="0.85"/>
<polygon points="82.64,715.70 96.04,715.70 89.34,727.10" fill="#f98c55" stroke="#3a3a3a" stroke-width="1"/>
<path d="M84.51,718.50H94.17M86.04,720.50H92.65M89.50,715.70V718.50M89.50,720.50V727.10" stroke="#2e2e2e" stroke-width="1" fill="none" opacity="0.85"/>
<polygon points="89.17,718.90 102.57,718.90 95.87,730.30" fill="#f98c55" stroke="#3a3a3a" stroke-width="1"/>
<path d="M91.04,721.50H100.70M92.57,724.50H99.17M95.50,718.90V721.50M95.50,724.50V730.30" stroke="#2e2e2e" stroke-width="1" fill="none" opacity="0.85"/>
<polygon points="102.22,747.00 115.62,747.00 108.92,758.40" fill="#f98c55" stroke="#3a3a3a" stroke-width="1"/>
<path d="M104.09,749.50H113.75M105.62,752.50H112.23M108.50,747.00V749.50M108.50,752.50V758.40" stroke="#2e2e2e" stroke-width="1" fill="none" opacity="0.85"/>
<polygon points="128.33,729.20 141.73,729.20 135.03,740.60" fill="#f98c55" stroke="#3a3a3a" stroke-width="1"/>
<path d="M130.20,731.50H139.86M131.73,734.50H138.33M135.50,729.20V731.50M135.50,734.50V740.60" stroke="#2e2e2e" stroke-width="1" fill="none" opacity="0.85"/>
<polygon points="180.54,721.30 193.94,721.30 187.24,732.70" fill="#f98c55" stroke="#3a3a3a" stroke-width="1"/>
<path d="M182.41,723.50H192.07M183.94,726.50H190.55M187.50,721.30V723.50M187.50,726.50V732.70" stroke="#2e2e2e" stroke-width="1" fill="none" opacity="0.85"/>
<polygon points="232.76,723.80 246.16,723.80 239.46,735.20" fill="#f98c55" stroke="#3a3a3a" stroke-width="1"/>
<path d="M234.63,726.50H244.29M236.15,728.50H242.76M239.50,723.80V726.50M239.50,728.50V735.20" stroke="#2e2e2e" stroke-width="1" fill="none" opacity="0.85"/>
<rect x="66.5" y="657.6" width="195.8" height="195.6" fill="none" stroke="#3c3c3c" stroke-width="1.3"/>
<path d="M82.82,853.20v-5.5M82.82,657.60v5.5M115.45,853.20v-5.5M115.45,657.60v5.5M148.08,853.20v-5.5M148.08,657.60v5.5M180.72,853.20v-5.5M180.72,657.60v5.5M213.35,853.20v-5.5M213.35,657.60v5.5M245.98,853.20v-5.5M245.98,657.60v5.5M99.13,853.20v-3M99.13,657.60v3M131.77,853.20v-3M131.77,657.60v3M164.40,853.20v-3M164.40,657.60v3M197.03,853.20v-3M197.03,657.60v3M229.67,853.20v-3M229.67,657.60v3M66.50,840.16h5.5M262.30,840.16h-5.5M66.50,788.00h5.5M262.30,788.00h-5.5M66.50,735.84h5.5M262.30,735.84h-5.5M66.50,683.68h5.5M262.30,683.68h-5.5M66.50,814.08h3M262.30,814.08h-3M66.50,761.92h3M262.30,761.92h-3M66.50,709.76h3M262.30,709.76h-3" stroke="#3c3c3c" stroke-width="1.2" fill="none"/>
<polyline points="293.52,798.90 296.78,799.30 300.04,799.70 306.57,806.00 319.62,806.50 345.73,814.80 397.94,802.00 453.42,799.20" fill="none" stroke="#404040" stroke-width="1" stroke-dasharray="2.3 1.8"/>
<circle cx="293.52" cy="798.90" r="5.15" fill="#8cbdd9" stroke="#3a3a3a" stroke-width="1"/>
<path d="M288.91,797.50H298.12M288.91,800.50H298.12M293.50,793.75V797.50M293.50,800.50V804.05" stroke="#2e2e2e" stroke-width="1" fill="none" opacity="0.85"/>
<circle cx="296.78" cy="799.30" r="5.15" fill="#8cbdd9" stroke="#3a3a3a" stroke-width="1"/>
<path d="M292.17,798.50H301.39M292.17,800.50H301.39M296.50,794.15V798.50M296.50,800.50V804.45" stroke="#2e2e2e" stroke-width="1" fill="none" opacity="0.85"/>
<circle cx="300.04" cy="799.70" r="5.15" fill="#8cbdd9" stroke="#3a3a3a" stroke-width="1"/>
<path d="M295.44,798.50H304.65M295.44,800.50H304.65M300.50,794.55V798.50M300.50,800.50V804.85" stroke="#2e2e2e" stroke-width="1" fill="none" opacity="0.85"/>
<circle cx="306.57" cy="806.00" r="5.15" fill="#8cbdd9" stroke="#3a3a3a" stroke-width="1"/>
<path d="M301.96,804.50H311.18M301.96,807.50H311.18M306.50,800.85V804.50M306.50,807.50V811.15" stroke="#2e2e2e" stroke-width="1" fill="none" opacity="0.85"/>
<circle cx="319.62" cy="806.50" r="5.15" fill="#8cbdd9" stroke="#3a3a3a" stroke-width="1"/>
<path d="M315.02,805.50H324.23M315.02,807.50H324.23M319.50,801.35V805.50M319.50,807.50V811.65" stroke="#2e2e2e" stroke-width="1" fill="none" opacity="0.85"/>
<circle cx="345.73" cy="814.80" r="5.15" fill="#8cbdd9" stroke="#3a3a3a" stroke-width="1"/>
<path d="M341.12,813.50H350.34M341.12,816.50H350.34M345.50,809.65V813.50M345.50,816.50V819.95" stroke="#2e2e2e" stroke-width="1" fill="none" opacity="0.85"/>
<circle cx="397.94" cy="802.00" r="5.15" fill="#8cbdd9" stroke="#3a3a3a" stroke-width="1"/>
<path d="M393.34,800.50H402.55M393.34,803.50H402.55M397.50,796.85V800.50M397.50,803.50V807.15" stroke="#2e2e2e" stroke-width="1" fill="none" opacity="0.85"/>
<circle cx="453.42" cy="799.20" r="5.15" fill="#8cbdd9" stroke="#3a3a3a" stroke-width="1"/>
<path d="M448.81,798.50H458.03M448.81,800.50H458.03M453.50,794.05V798.50M453.50,800.50V804.35" stroke="#2e2e2e" stroke-width="1" fill="none" opacity="0.85"/>
<polyline points="293.52,780.50 296.78,780.10 300.04,780.50 306.57,790.50 319.62,794.80 345.73,810.30 397.94,793.50 453.42,791.80" fill="none" stroke="#404040" stroke-width="1" stroke-dasharray="2.3 1.8"/>
<polygon points="293.52,772.90 300.22,784.30 286.82,784.30" fill="#d8eef6" stroke="#3a3a3a" stroke-width="1"/>
<path d="M289.45,780.50H297.58M293.50,772.90V784.30" stroke="#2e2e2e" stroke-width="1" fill="none" opacity="0.85"/>
<polygon points="296.78,772.50 303.48,783.90 290.08,783.90" fill="#d8eef6" stroke="#3a3a3a" stroke-width="1"/>
<path d="M292.71,780.50H300.85M296.50,772.50V783.90" stroke="#2e2e2e" stroke-width="1" fill="none" opacity="0.85"/>
<polygon points="300.04,772.90 306.74,784.30 293.34,784.30" fill="#d8eef6" stroke="#3a3a3a" stroke-width="1"/>
<path d="M295.98,780.50H304.11M300.50,772.90V784.30" stroke="#2e2e2e" stroke-width="1" fill="none" opacity="0.85"/>
<polygon points="306.57,782.90 313.27,794.30 299.87,794.30" fill="#d8eef6" stroke="#3a3a3a" stroke-width="1"/>
<path d="M302.50,790.50H310.64M306.50,782.90V794.30" stroke="#2e2e2e" stroke-width="1" fill="none" opacity="0.85"/>
<polygon points="319.62,787.20 326.32,798.60 312.92,798.60" fill="#d8eef6" stroke="#3a3a3a" stroke-width="1"/>
<path d="M315.56,794.50H323.69M319.50,787.20V798.60" stroke="#2e2e2e" stroke-width="1" fill="none" opacity="0.85"/>
<polygon points="345.73,802.70 352.43,814.10 339.03,814.10" fill="#d8eef6" stroke="#3a3a3a" stroke-width="1"/>
<path d="M341.66,810.50H349.80M345.50,802.70V814.10" stroke="#2e2e2e" stroke-width="1" fill="none" opacity="0.85"/>
<polygon points="397.94,785.90 404.64,797.30 391.24,797.30" fill="#d8eef6" stroke="#3a3a3a" stroke-width="1"/>
<path d="M393.88,793.50H402.01M397.50,785.90V797.30" stroke="#2e2e2e" stroke-width="1" fill="none" opacity="0.85"/>
<polygon points="453.42,784.20 460.12,795.60 446.72,795.60" fill="#d8eef6" stroke="#3a3a3a" stroke-width="1"/>
<path d="M449.35,791.50H457.49M453.50,784.20V795.60" stroke="#2e2e2e" stroke-width="1" fill="none" opacity="0.85"/>
<polyline points="293.52,713.30 296.78,713.70 300.04,713.10 306.57,731.50 319.62,735.80 345.73,763.40 397.94,726.10 453.42,721.70" fill="none" stroke="#404040" stroke-width="1" stroke-dasharray="2.3 1.8"/>
<rect x="288.97" y="708.75" width="9.1" height="9.1" fill="#fddf8a" stroke="#3a3a3a" stroke-width="1"/>
<path d="M289.37,711.50H297.67M289.37,715.50H297.67M293.50,708.75V711.50M293.50,715.50V717.85" stroke="#2e2e2e" stroke-width="1" fill="none" opacity="0.85"/>
<rect x="292.23" y="709.15" width="9.1" height="9.1" fill="#fddf8a" stroke="#3a3a3a" stroke-width="1"/>
<path d="M292.63,711.50H300.93M292.63,715.50H300.93M296.50,709.15V711.50M296.50,715.50V718.25" stroke="#2e2e2e" stroke-width="1" fill="none" opacity="0.85"/>
<rect x="295.49" y="708.55" width="9.1" height="9.1" fill="#fddf8a" stroke="#3a3a3a" stroke-width="1"/>
<path d="M295.89,711.50H304.19M295.89,714.50H304.19M300.50,708.55V711.50M300.50,714.50V717.65" stroke="#2e2e2e" stroke-width="1" fill="none" opacity="0.85"/>
<rect x="302.02" y="726.95" width="9.1" height="9.1" fill="#fddf8a" stroke="#3a3a3a" stroke-width="1"/>
<path d="M302.42,729.50H310.72M302.42,733.50H310.72M306.50,726.95V729.50M306.50,733.50V736.05" stroke="#2e2e2e" stroke-width="1" fill="none" opacity="0.85"/>
<rect x="315.07" y="731.25" width="9.1" height="9.1" fill="#fddf8a" stroke="#3a3a3a" stroke-width="1"/>
<path d="M315.47,734.50H323.77M315.47,737.50H323.77M319.50,731.25V734.50M319.50,737.50V740.35" stroke="#2e2e2e" stroke-width="1" fill="none" opacity="0.85"/>
<rect x="341.18" y="758.85" width="9.1" height="9.1" fill="#fddf8a" stroke="#3a3a3a" stroke-width="1"/>
<path d="M341.58,761.50H349.88M341.58,765.50H349.88M345.50,758.85V761.50M345.50,765.50V767.95" stroke="#2e2e2e" stroke-width="1" fill="none" opacity="0.85"/>
<rect x="393.39" y="721.55" width="9.1" height="9.1" fill="#fddf8a" stroke="#3a3a3a" stroke-width="1"/>
<path d="M393.79,724.50H402.09M393.79,727.50H402.09M397.50,721.55V724.50M397.50,727.50V730.65" stroke="#2e2e2e" stroke-width="1" fill="none" opacity="0.85"/>
<rect x="448.87" y="717.15" width="9.1" height="9.1" fill="#fddf8a" stroke="#3a3a3a" stroke-width="1"/>
<path d="M449.27,719.50H457.57M449.27,723.50H457.57M453.50,717.15V719.50M453.50,723.50V726.25" stroke="#2e2e2e" stroke-width="1" fill="none" opacity="0.85"/>
<polyline points="293.52,700.10 296.78,699.70 300.04,701.40 306.57,720.20 319.62,721.80 345.73,754.80 397.94,711.90 453.42,706.80" fill="none" stroke="#404040" stroke-width="1" stroke-dasharray="2.3 1.8"/>
<polygon points="286.82,696.30 300.22,696.30 293.52,707.70" fill="#f98c55" stroke="#3a3a3a" stroke-width="1"/>
<path d="M288.69,698.50H298.35M290.21,701.50H296.82M293.50,696.30V698.50M293.50,701.50V707.70" stroke="#2e2e2e" stroke-width="1" fill="none" opacity="0.85"/>
<polygon points="290.08,695.90 303.48,695.90 296.78,707.30" fill="#f98c55" stroke="#3a3a3a" stroke-width="1"/>
<path d="M291.95,698.50H301.61M293.48,701.50H300.08M296.50,695.90V698.50M296.50,701.50V707.30" stroke="#2e2e2e" stroke-width="1" fill="none" opacity="0.85"/>
<polygon points="293.34,697.60 306.74,697.60 300.04,709.00" fill="#f98c55" stroke="#3a3a3a" stroke-width="1"/>
<path d="M295.21,700.50H304.87M296.74,702.50H303.35M300.50,697.60V700.50M300.50,702.50V709.00" stroke="#2e2e2e" stroke-width="1" fill="none" opacity="0.85"/>
<polygon points="299.87,716.40 313.27,716.40 306.57,727.80" fill="#f98c55" stroke="#3a3a3a" stroke-width="1"/>
<path d="M301.74,718.50H311.40M303.27,721.50H309.87M306.50,716.40V718.50M306.50,721.50V727.80" stroke="#2e2e2e" stroke-width="1" fill="none" opacity="0.85"/>
<polygon points="312.92,718.00 326.32,718.00 319.62,729.40" fill="#f98c55" stroke="#3a3a3a" stroke-width="1"/>
<path d="M314.79,720.50H324.45M316.32,723.50H322.93M319.50,718.00V720.50M319.50,723.50V729.40" stroke="#2e2e2e" stroke-width="1" fill="none" opacity="0.85"/>
<polygon points="339.03,751.00 352.43,751.00 345.73,762.40" fill="#f98c55" stroke="#3a3a3a" stroke-width="1"/>
<path d="M340.90,753.50H350.56M342.43,756.50H349.03M345.50,751.00V753.50M345.50,756.50V762.40" stroke="#2e2e2e" stroke-width="1" fill="none" opacity="0.85"/>
<polygon points="391.24,708.10 404.64,708.10 397.94,719.50" fill="#f98c55" stroke="#3a3a3a" stroke-width="1"/>
<path d="M393.11,710.50H402.77M394.64,713.50H401.25M397.50,708.10V710.50M397.50,713.50V719.50" stroke="#2e2e2e" stroke-width="1" fill="none" opacity="0.85"/>
<polygon points="446.72,703.00 460.12,703.00 453.42,714.40" fill="#f98c55" stroke="#3a3a3a" stroke-width="1"/>
<path d="M448.59,705.50H458.25M450.12,708.50H456.72M453.50,703.00V705.50M453.50,708.50V714.40" stroke="#2e2e2e" stroke-width="1" fill="none" opacity="0.85"/>
<rect x="277.2" y="657.6" width="195.8" height="195.6" fill="none" stroke="#3c3c3c" stroke-width="1.3"/>
<path d="M293.52,853.20v-5.5M293.52,657.60v5.5M326.15,853.20v-5.5M326.15,657.60v5.5M358.78,853.20v-5.5M358.78,657.60v5.5M391.42,853.20v-5.5M391.42,657.60v5.5M424.05,853.20v-5.5M424.05,657.60v5.5M456.68,853.20v-5.5M456.68,657.60v5.5M309.83,853.20v-3M309.83,657.60v3M342.47,853.20v-3M342.47,657.60v3M375.10,853.20v-3M375.10,657.60v3M407.73,853.20v-3M407.73,657.60v3M440.37,853.20v-3M440.37,657.60v3M277.20,840.16h5.5M473.00,840.16h-5.5M277.20,788.00h5.5M473.00,788.00h-5.5M277.20,735.84h5.5M473.00,735.84h-5.5M277.20,683.68h5.5M473.00,683.68h-5.5M277.20,814.08h3M473.00,814.08h-3M277.20,761.92h3M473.00,761.92h-3M277.20,709.76h3M473.00,709.76h-3" stroke="#3c3c3c" stroke-width="1.2" fill="none"/>
<polyline points="504.32,747.50 507.58,766.10 510.84,771.10 517.37,748.00 530.42,771.50 556.53,769.20 608.74,745.60 664.22,749.30" fill="none" stroke="#404040" stroke-width="1" stroke-dasharray="2.3 1.8"/>
<circle cx="504.32" cy="747.50" r="5.15" fill="#8cbdd9" stroke="#3a3a3a" stroke-width="1"/>
<path d="M499.71,746.50H508.92M499.71,748.50H508.92M504.50,742.35V746.50M504.50,748.50V752.65" stroke="#2e2e2e" stroke-width="1" fill="none" opacity="0.85"/>
<circle cx="507.58" cy="766.10" r="5.15" fill="#8cbdd9" stroke="#3a3a3a" stroke-width="1"/>
<path d="M502.97,764.50H512.19M502.97,767.50H512.19M507.50,760.95V764.50M507.50,767.50V771.25" stroke="#2e2e2e" stroke-width="1" fill="none" opacity="0.85"/>
<circle cx="510.84" cy="771.10" r="5.15" fill="#8cbdd9" stroke="#3a3a3a" stroke-width="1"/>
<path d="M506.24,769.50H515.45M506.24,772.50H515.45M510.50,765.95V769.50M510.50,772.50V776.25" stroke="#2e2e2e" stroke-width="1" fill="none" opacity="0.85"/>
<circle cx="517.37" cy="748.00" r="5.15" fill="#8cbdd9" stroke="#3a3a3a" stroke-width="1"/>
<path d="M512.76,746.50H521.98M512.76,749.50H521.98M517.50,742.85V746.50M517.50,749.50V753.15" stroke="#2e2e2e" stroke-width="1" fill="none" opacity="0.85"/>
<circle cx="530.42" cy="771.50" r="5.15" fill="#8cbdd9" stroke="#3a3a3a" stroke-width="1"/>
<path d="M525.82,770.50H535.03M525.82,772.50H535.03M530.50,766.35V770.50M530.50,772.50V776.65" stroke="#2e2e2e" stroke-width="1" fill="none" opacity="0.85"/>
<circle cx="556.53" cy="769.20" r="5.15" fill="#8cbdd9" stroke="#3a3a3a" stroke-width="1"/>
<path d="M551.92,768.50H561.14M551.92,770.50H561.14M556.50,764.05V768.50M556.50,770.50V774.35" stroke="#2e2e2e" stroke-width="1" fill="none" opacity="0.85"/>
<circle cx="608.74" cy="745.60" r="5.15" fill="#8cbdd9" stroke="#3a3a3a" stroke-width="1"/>
<path d="M604.14,744.50H613.35M604.14,746.50H613.35M608.50,740.45V744.50M608.50,746.50V750.75" stroke="#2e2e2e" stroke-width="1" fill="none" opacity="0.85"/>
<circle cx="664.22" cy="749.30" r="5.15" fill="#8cbdd9" stroke="#3a3a3a" stroke-width="1"/>
<path d="M659.61,748.50H668.83M659.61,750.50H668.83M664.50,744.15V748.50M664.50,750.50V754.45" stroke="#2e2e2e" stroke-width="1" fill="none" opacity="0.85"/>
<polyline points="504.32,729.10 507.58,751.60 510.84,758.40 517.37,732.20 530.42,763.00 556.53,762.00 608.74,736.90 664.22,741.70" fill="none" stroke="#404040" stroke-width="1" stroke-dasharray="2.3 1.8"/>
<polygon points="504.32,721.50 511.02,732.90 497.62,732.90" fill="#d8eef6" stroke="#3a3a3a" stroke-width="1"/>
<path d="M500.25,729.50H508.38M504.50,721.50V732.90" stroke="#2e2e2e" stroke-width="1" fill="none" opacity="0.85"/>
<polygon points="507.58,744.00 514.28,755.40 500.88,755.40" fill="#d8eef6" stroke="#3a3a3a" stroke-width="1"/>
<path d="M503.51,751.50H511.65M507.50,744.00V755.40" stroke="#2e2e2e" stroke-width="1" fill="none" opacity="0.85"/>
<polygon points="510.84,750.80 517.54,762.20 504.14,762.20" fill="#d8eef6" stroke="#3a3a3a" stroke-width="1"/>
<path d="M506.78,758.50H514.91M510.50,750.80V762.20" stroke="#2e2e2e" stroke-width="1" fill="none" opacity="0.85"/>
<polygon points="517.37,724.60 524.07,736.00 510.67,736.00" fill="#d8eef6" stroke="#3a3a3a" stroke-width="1"/>
<path d="M513.30,732.50H521.44M517.50,724.60V736.00" stroke="#2e2e2e" stroke-width="1" fill="none" opacity="0.85"/>
<polygon points="530.42,755.40 537.12,766.80 523.72,766.80" fill="#d8eef6" stroke="#3a3a3a" stroke-width="1"/>
<path d="M526.36,763.50H534.49M530.50,755.40V766.80" stroke="#2e2e2e" stroke-width="1" fill="none" opacity="0.85"/>
<polygon points="556.53,754.40 563.23,765.80 549.83,765.80" fill="#d8eef6" stroke="#3a3a3a" stroke-width="1"/>
<path d="M552.46,762.50H560.60M556.50,754.40V765.80" stroke="#2e2e2e" stroke-width="1" fill="none" opacity="0.85"/>
<polygon points="608.74,729.30 615.44,740.70 602.04,740.70" fill="#d8eef6" stroke="#3a3a3a" stroke-width="1"/>
<path d="M604.68,736.50H612.81M608.50,729.30V740.70" stroke="#2e2e2e" stroke-width="1" fill="none" opacity="0.85"/>
<polygon points="664.22,734.10 670.92,745.50 657.52,745.50" fill="#d8eef6" stroke="#3a3a3a" stroke-width="1"/>
<path d="M660.15,741.50H668.29M664.50,734.10V745.50" stroke="#2e2e2e" stroke-width="1" fill="none" opacity="0.85"/>
<polyline points="504.32,713.10 507.58,737.80 510.84,746.50 517.37,715.50 530.42,750.50 556.53,749.10 608.74,720.30 664.22,725.90" fill="none" stroke="#404040" stroke-width="1" stroke-dasharray="2.3 1.8"/>
<rect x="499.77" y="708.55" width="9.1" height="9.1" fill="#fddf8a" stroke="#3a3a3a" stroke-width="1"/>
<path d="M500.17,711.50H508.47M500.17,714.50H508.47M504.50,708.55V711.50M504.50,714.50V717.65" stroke="#2e2e2e" stroke-width="1" fill="none" opacity="0.85"/>
<rect x="503.03" y="733.25" width="9.1" height="9.1" fill="#fddf8a" stroke="#3a3a3a" stroke-width="1"/>
<path d="M503.43,736.50H511.73M503.43,739.50H511.73M507.50,733.25V736.50M507.50,739.50V742.35" stroke="#2e2e2e" stroke-width="1" fill="none" opacity="0.85"/>
<rect x="506.29" y="741.95" width="9.1" height="9.1" fill="#fddf8a" stroke="#3a3a3a" stroke-width="1"/>
<path d="M506.69,744.50H514.99M506.69,748.50H514.99M510.50,741.95V744.50M510.50,748.50V751.05" stroke="#2e2e2e" stroke-width="1" fill="none" opacity="0.85"/>
<rect x="512.82" y="710.95" width="9.1" height="9.1" fill="#fddf8a" stroke="#3a3a3a" stroke-width="1"/>
<path d="M513.22,713.50H521.52M513.22,717.50H521.52M517.50,710.95V713.50M517.50,717.50V720.05" stroke="#2e2e2e" stroke-width="1" fill="none" opacity="0.85"/>
<rect x="525.87" y="745.95" width="9.1" height="9.1" fill="#fddf8a" stroke="#3a3a3a" stroke-width="1"/>
<path d="M526.27,748.50H534.57M526.27,752.50H534.57M530.50,745.95V748.50M530.50,752.50V755.05" stroke="#2e2e2e" stroke-width="1" fill="none" opacity="0.85"/>
<rect x="551.98" y="744.55" width="9.1" height="9.1" fill="#fddf8a" stroke="#3a3a3a" stroke-width="1"/>
<path d="M552.38,747.50H560.68M552.38,750.50H560.68M556.50,744.55V747.50M556.50,750.50V753.65" stroke="#2e2e2e" stroke-width="1" fill="none" opacity="0.85"/>
<rect x="604.19" y="715.75" width="9.1" height="9.1" fill="#fddf8a" stroke="#3a3a3a" stroke-width="1"/>
<path d="M604.59,718.50H612.89M604.59,722.50H612.89M608.50,715.75V718.50M608.50,722.50V724.85" stroke="#2e2e2e" stroke-width="1" fill="none" opacity="0.85"/>
<rect x="659.67" y="721.35" width="9.1" height="9.1" fill="#fddf8a" stroke="#3a3a3a" stroke-width="1"/>
<path d="M660.07,724.50H668.37M660.07,727.50H668.37M664.50,721.35V724.50M664.50,727.50V730.45" stroke="#2e2e2e" stroke-width="1" fill="none" opacity="0.85"/>
<polyline points="504.32,709.30 507.58,735.10 510.84,742.60 517.37,707.80 530.42,741.70 556.53,737.90 608.74,705.10 664.22,710.10" fill="none" stroke="#404040" stroke-width="1" stroke-dasharray="2.3 1.8"/>
<polygon points="497.62,705.50 511.02,705.50 504.32,716.90" fill="#f98c55" stroke="#3a3a3a" stroke-width="1"/>
<path d="M499.49,708.50H509.15M501.01,710.50H507.62M504.50,705.50V708.50M504.50,710.50V716.90" stroke="#2e2e2e" stroke-width="1" fill="none" opacity="0.85"/>
<polygon points="500.88,731.30 514.28,731.30 507.58,742.70" fill="#f98c55" stroke="#3a3a3a" stroke-width="1"/>
<path d="M502.75,733.50H512.41M504.28,736.50H510.88M507.50,731.30V733.50M507.50,736.50V742.70" stroke="#2e2e2e" stroke-width="1" fill="none" opacity="0.85"/>
<polygon points="504.14,738.80 517.54,738.80 510.84,750.20" fill="#f98c55" stroke="#3a3a3a" stroke-width="1"/>
<path d="M506.01,741.50H515.67M507.54,743.50H514.15M510.50,738.80V741.50M510.50,743.50V750.20" stroke="#2e2e2e" stroke-width="1" fill="none" opacity="0.85"/>
<polygon points="510.67,704.00 524.07,704.00 517.37,715.40" fill="#f98c55" stroke="#3a3a3a" stroke-width="1"/>
<path d="M512.54,706.50H522.20M514.07,709.50H520.67M517.50,704.00V706.50M517.50,709.50V715.40" stroke="#2e2e2e" stroke-width="1" fill="none" opacity="0.85"/>
<polygon points="523.72,737.90 537.12,737.90 530.42,749.30" fill="#f98c55" stroke="#3a3a3a" stroke-width="1"/>
<path d="M525.59,740.50H535.25M527.12,743.50H533.73M530.50,737.90V740.50M530.50,743.50V749.30" stroke="#2e2e2e" stroke-width="1" fill="none" opacity="0.85"/>
<polygon points="549.83,734.10 563.23,734.10 556.53,745.50" fill="#f98c55" stroke="#3a3a3a" stroke-width="1"/>
<path d="M551.70,736.50H561.36M553.23,739.50H559.83M556.50,734.10V736.50M556.50,739.50V745.50" stroke="#2e2e2e" stroke-width="1" fill="none" opacity="0.85"/>
<polygon points="602.04,701.30 615.44,701.30 608.74,712.70" fill="#f98c55" stroke="#3a3a3a" stroke-width="1"/>
<path d="M603.91,703.50H613.57M605.44,706.50H612.05M608.50,701.30V703.50M608.50,706.50V712.70" stroke="#2e2e2e" stroke-width="1" fill="none" opacity="0.85"/>
<polygon points="657.52,706.30 670.92,706.30 664.22,717.70" fill="#f98c55" stroke="#3a3a3a" stroke-width="1"/>
<path d="M659.39,708.50H669.05M660.92,711.50H667.52M664.50,706.30V708.50M664.50,711.50V717.70" stroke="#2e2e2e" stroke-width="1" fill="none" opacity="0.85"/>
<rect x="488.0" y="657.6" width="195.8" height="195.6" fill="none" stroke="#3c3c3c" stroke-width="1.3"/>
<path d="M504.32,853.20v-5.5M504.32,657.60v5.5M536.95,853.20v-5.5M536.95,657.60v5.5M569.58,853.20v-5.5M569.58,657.60v5.5M602.22,853.20v-5.5M602.22,657.60v5.5M634.85,853.20v-5.5M634.85,657.60v5.5M667.48,853.20v-5.5M667.48,657.60v5.5M520.63,853.20v-3M520.63,657.60v3M553.27,853.20v-3M553.27,657.60v3M585.90,853.20v-3M585.90,657.60v3M618.53,853.20v-3M618.53,657.60v3M651.17,853.20v-3M651.17,657.60v3M488.00,840.16h5.5M683.80,840.16h-5.5M488.00,788.00h5.5M683.80,788.00h-5.5M488.00,735.84h5.5M683.80,735.84h-5.5M488.00,683.68h5.5M683.80,683.68h-5.5M488.00,814.08h3M683.80,814.08h-3M488.00,761.92h3M683.80,761.92h-3M488.00,709.76h3M683.80,709.76h-3" stroke="#3c3c3c" stroke-width="1.2" fill="none"/>
<text transform="translate(57.4,194.80) scale(1,1.12)" text-anchor="end" class="tl">4</text>
<text transform="translate(57.4,129.60) scale(1,1.12)" text-anchor="end" class="tl">6</text>
<text transform="translate(57.4,64.40) scale(1,1.12)" text-anchor="end" class="tl">8</text>
<text transform="translate(60.4,428.71) scale(1,1.12)" text-anchor="end" class="tl">0</text>
<text transform="translate(60.4,375.36) scale(1,1.12)" text-anchor="end" class="tl">300</text>
<text transform="translate(60.4,322.02) scale(1,1.12)" text-anchor="end" class="tl">600</text>
<text transform="translate(60.4,268.67) scale(1,1.12)" text-anchor="end" class="tl">900</text>
<text transform="translate(60.4,635.16) scale(1,1.12)" text-anchor="end" class="tl">0</text>
<text transform="translate(60.4,583.00) scale(1,1.12)" text-anchor="end" class="tl">400</text>
<text transform="translate(60.4,530.84) scale(1,1.12)" text-anchor="end" class="tl">800</text>
<text transform="translate(60.4,478.68) scale(1,1.12)" text-anchor="end" class="tl">1200</text>
<text transform="translate(60.4,845.46) scale(1,1.12)" text-anchor="end" class="tl">0</text>
<text transform="translate(60.4,793.30) scale(1,1.12)" text-anchor="end" class="tl">4</text>
<text transform="translate(60.4,741.14) scale(1,1.12)" text-anchor="end" class="tl">8</text>
<text transform="translate(60.4,688.98) scale(1,1.12)" text-anchor="end" class="tl">12</text>
<text transform="translate(83.12,870.9) scale(1,1.12)" text-anchor="middle" class="tl">0</text>
<text transform="translate(115.75,870.9) scale(1,1.12)" text-anchor="middle" class="tl">10</text>
<text transform="translate(148.38,870.9) scale(1,1.12)" text-anchor="middle" class="tl">20</text>
<text transform="translate(181.02,870.9) scale(1,1.12)" text-anchor="middle" class="tl">30</text>
<text transform="translate(213.65,870.9) scale(1,1.12)" text-anchor="middle" class="tl">40</text>
<text transform="translate(246.28,870.9) scale(1,1.12)" text-anchor="middle" class="tl">50</text>
<text transform="translate(293.82,870.9) scale(1,1.12)" text-anchor="middle" class="tl">0</text>
<text transform="translate(326.45,870.9) scale(1,1.12)" text-anchor="middle" class="tl">10</text>
<text transform="translate(359.08,870.9) scale(1,1.12)" text-anchor="middle" class="tl">20</text>
<text transform="translate(391.72,870.9) scale(1,1.12)" text-anchor="middle" class="tl">30</text>
<text transform="translate(424.35,870.9) scale(1,1.12)" text-anchor="middle" class="tl">40</text>
<text transform="translate(456.98,870.9) scale(1,1.12)" text-anchor="middle" class="tl">50</text>
<text transform="translate(504.62,870.9) scale(1,1.12)" text-anchor="middle" class="tl">0</text>
<text transform="translate(537.25,870.9) scale(1,1.12)" text-anchor="middle" class="tl">10</text>
<text transform="translate(569.88,870.9) scale(1,1.12)" text-anchor="middle" class="tl">20</text>
<text transform="translate(602.52,870.9) scale(1,1.12)" text-anchor="middle" class="tl">30</text>
<text transform="translate(635.15,870.9) scale(1,1.12)" text-anchor="middle" class="tl">40</text>
<text transform="translate(667.78,870.9) scale(1,1.12)" text-anchor="middle" class="tl">50</text>
<text x="164.40" y="13.8" text-anchor="middle" class="ax">Alum</text>
<text x="375.10" y="13.8" text-anchor="middle" class="ax">Ferric</text>
<text x="585.90" y="13.8" text-anchor="middle" class="ax">Gypsum</text>
<text x="375.10" y="897.8" text-anchor="middle" class="ax">Time (weeks)</text>
<text transform="translate(15.3,113.9) rotate(-90)" text-anchor="middle" class="ax">pH</text>
<text transform="translate(15.3,334.3) rotate(-90)" text-anchor="middle" class="ax">Eh (mV)</text>
<text transform="translate(16.8,531.3) rotate(-90)" text-anchor="middle" class="ax">Alkalinity (mg L<tspan dy="-6" font-size="11">-1</tspan><tspan dy="6">)</tspan></text>
<text transform="translate(17.5,755) rotate(-90)" text-anchor="middle" class="ax">EC (mS cm<tspan dy="-6" font-size="11">-1</tspan><tspan dy="6">)</tspan></text>
<rect x="565.4" y="138.5" width="105.4" height="70.3" fill="#fff" stroke="#8a8a8a" stroke-width="1"/>
<line x1="567.3" y1="148.00" x2="599.6" y2="148.00" stroke="#444" stroke-width="1" stroke-dasharray="2.3 1.8"/>
<circle cx="583.60" cy="148.00" r="5.6" fill="#8cbdd9" stroke="#3a3a3a" stroke-width="1"/>
<text x="603.4" y="153.00" class="lg">0 ppm</text>
<line x1="567.3" y1="165.10" x2="599.6" y2="165.10" stroke="#444" stroke-width="1" stroke-dasharray="2.3 1.8"/>
<polygon points="583.60,157.50 590.30,168.90 576.90,168.90" fill="#d8eef6" stroke="#3a3a3a" stroke-width="1"/>
<text x="603.4" y="170.10" class="lg">500 ppm</text>
<line x1="567.3" y1="182.20" x2="599.6" y2="182.20" stroke="#444" stroke-width="1" stroke-dasharray="2.3 1.8"/>
<rect x="579.05" y="177.65" width="9.1" height="9.1" fill="#fddf8a" stroke="#3a3a3a" stroke-width="1"/>
<text x="603.4" y="187.20" class="lg">1000 ppm</text>
<line x1="567.3" y1="199.30" x2="599.6" y2="199.30" stroke="#444" stroke-width="1" stroke-dasharray="2.3 1.8"/>
<polygon points="576.90,195.50 590.30,195.50 583.60,206.90" fill="#f98c55" stroke="#3a3a3a" stroke-width="1"/>
<text x="603.4" y="204.30" class="lg">1500 ppm</text>
</svg>
</body></html>
